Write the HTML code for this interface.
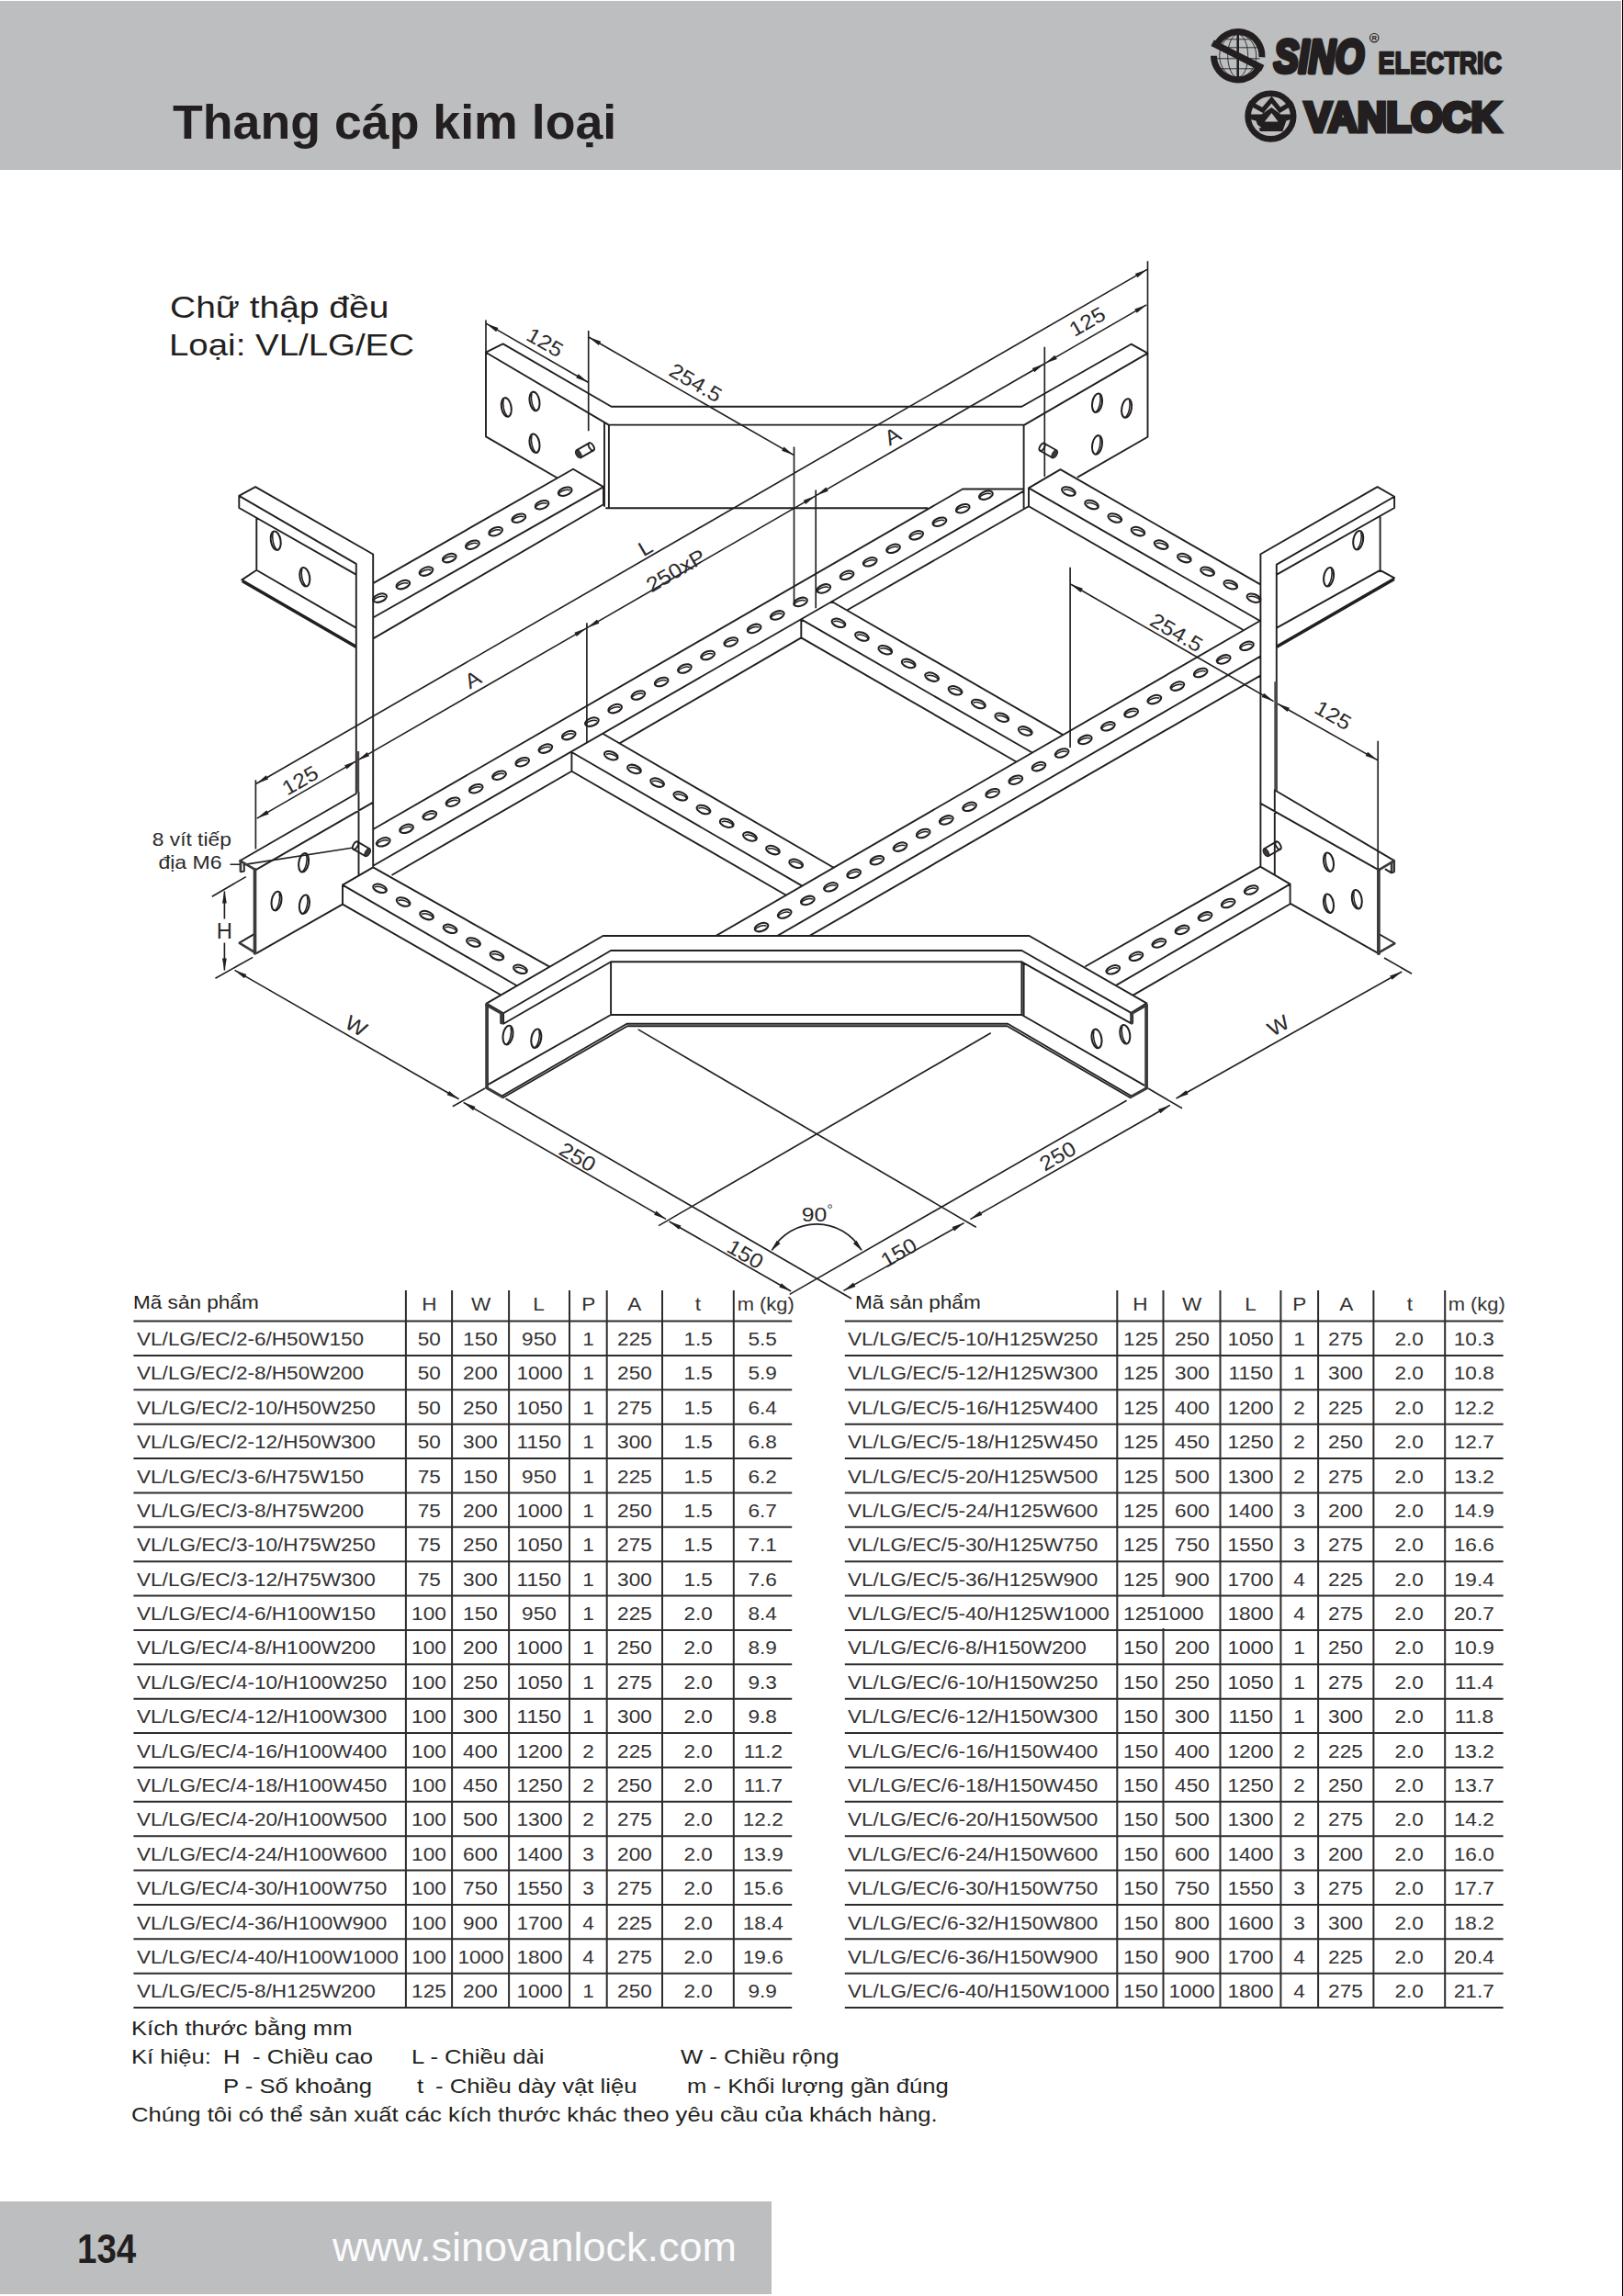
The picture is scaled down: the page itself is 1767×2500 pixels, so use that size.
<!DOCTYPE html>
<html lang="vi"><head><meta charset="utf-8"><title>Thang cáp kim loại - Chữ thập đều VL/LG/EC</title>
<style>
html,body{margin:0;padding:0;background:#fff;}
body{width:1767px;height:2500px;position:relative;overflow:hidden;font-family:"Liberation Sans",sans-serif;color:#231f20;}
.t{position:absolute;white-space:pre;transform-origin:0 50%;}
.r{position:absolute;}
.tb{color:#333132;}
svg{position:absolute;left:0;top:0;}
</style></head><body>

<div class="r" style="left:0.0px;top:1.0px;width:1764.8px;height:184.4px;background:#bcbec0"></div>
<div class="r" style="left:1766.0px;top:0.0px;width:1.0px;height:2500.0px;background:#000"></div>
<span class="t " style="left:187.6px;top:106.5px;font-size:52.4px;line-height:52.4px;transform:scaleX(1.0246);font-weight:700;">Thang cáp kim loại</span>
<svg width="1767" height="190" viewBox="0 0 1767 190">
<g transform="translate(1347.7 60.8)">
<g fill="none" stroke="#231f20" stroke-width="0.9"><ellipse rx="11" ry="23.5"/><ellipse rx="20" ry="23.5"/><path d="M-23 -9H23M-24 3H24M-21 14H21M-16 -18H16"/></g>
<path d="M0 -26V26" stroke="#231f20" stroke-width="2.6" fill="none"/>
<g fill="none" stroke="#231f20" stroke-width="7" stroke-linecap="butt"><path d="M-24 -10.5A26.2 26.2 0 0 1 26.2 1.5"/><path d="M24 10.5A26.2 26.2 0 0 1 -26.2 0"/><path d="M-27.6 -14L27 13.6" stroke-width="7.4"/></g>
</g>
<text x="1387" y="79" font-family="Liberation Sans, sans-serif" font-weight="700" font-style="italic" font-size="50.4" fill="#231f20" stroke="#231f20" stroke-width="5" stroke-linejoin="round" textLength="98" lengthAdjust="spacingAndGlyphs">SINO</text>
<circle cx="1496.2" cy="41.2" r="4.7" fill="none" stroke="#231f20" stroke-width="1.2"/>
<text x="1496.2" y="44.1" text-anchor="middle" font-family="Liberation Sans, sans-serif" font-weight="700" font-size="7.6" fill="#231f20">R</text>
<text x="1500.6" y="80.1" font-family="Liberation Sans, sans-serif" font-weight="700" font-size="33.8" fill="#231f20" stroke="#231f20" stroke-width="2.4" stroke-linejoin="round" textLength="134.4" lengthAdjust="spacingAndGlyphs">ELECTRIC</text>
<g transform="translate(1383.4 126.6)">
<circle r="24.8" fill="none" stroke="#231f20" stroke-width="6.6"/>
<path d="M-24 -15L-8.6 -6.6L1 -18L10.2 -6.6L24 -15" fill="none" stroke="#231f20" stroke-width="5" stroke-linejoin="miter"/>
<path fill-rule="evenodd" fill="#231f20" d="M-24 -2L-10 -2L1 -9.5L11 -2L24 -2L24 3L17 5L13 16.5L-11.5 16.5L-16 5L-24 3ZM1 -3.6L-6.6 6L8.2 6Z"/>
<path d="M-17 7.5L-10 12.5L-16.5 14Z" fill="#bcbec0"/>
</g>
<text x="1420.4" y="143" font-family="Liberation Sans, sans-serif" font-weight="700" font-size="44.6" fill="#231f20" stroke="#231f20" stroke-width="4.8" stroke-linejoin="miter" textLength="213" lengthAdjust="spacingAndGlyphs">VANLOCK</text>
</svg>
<span class="t " style="left:184.9px;top:317.6px;font-size:33.2px;line-height:33.2px;transform:scaleX(1.1737);">Chữ thập đều</span>
<span class="t " style="left:183.6px;top:358.8px;font-size:33.2px;line-height:33.2px;transform:scaleX(1.1579);">Loại: VL/LG/EC</span>
<svg width="1767" height="2500" viewBox="0 0 1767 2500">
<defs>
<style>
.o{fill:none;stroke:#231f20;stroke-width:1.9;stroke-linecap:round;stroke-linejoin:round}
.d{fill:none;stroke:#231f20;stroke-width:1.65;stroke-linecap:butt}
.k{fill:none;stroke:#4a4849;stroke-width:3.4}
.ah{fill:#231f20;stroke:none}
.c1{fill:none;stroke:#3b393a;stroke-width:3.7;stroke-linecap:round}
.c2{fill:none;stroke:#3b393a;stroke-width:2.7;stroke-linecap:round}
.c3{fill:none;stroke:#3b393a;stroke-width:3.1;stroke-linecap:round}
.dt{font-family:"Liberation Sans",sans-serif;fill:#2b2a2a}
.nt{font-family:"Liberation Sans",sans-serif;font-size:21px;fill:#2b2a2a}
.hh{fill:none;stroke:#231f20;stroke-width:2.05}
.hi{fill:none;stroke:#231f20;stroke-width:1.5}
</style>
</defs>
<path class="o" d="M529 383.7 L547.6 374.4 L665.6 442.8 L1112.4 442.8 L1231.5 374.7 L1249.5 384.6M529 475.4 L529 383.7 L662.7 462.6 L1115.3 462.6 L1249.5 384.6 L1249.5 475.8 L1173.6 519.4M529 475.4L606.5 520.3M658 460.2L658 551M662.9 462.6L662.9 553.2M660 553.2L1009.7 553.2M1114.6 462.6L1114.6 553.2M406.2 635.1 L624 510.7 L657 530.1 L657 549.3 L406.2 695.4M406.2 672.5L657 530.1M387.7 613.9 L260.3 539.9 L278.1 530.1 L406.2 603.5M260.3 539.9 L260.3 553 L387.7 625.7M279.3 564.2L279.3 620.8M387.7 683.6 L279.3 620.8 L263.3 631.4 L387.7 703.3M264.2 633.8L387.7 705.3M387.8 613.9L387.8 863.4M406.2 603.5L406.2 944.4M390.5 862.6L390.5 952.6M261.2 937.2L387.7 864.2M279.4 946.6L406.2 873.6M279.4 1037.8L373 984.6M262.4 949.4 L265.8 948.6 L265.8 942.4M261 1026.4L276.2 1017.4M597.4 1052.2 L406.2 944.4 L373 963.6 L373 984.6 L544.6 1083M373 963.6L561.8 1072.8M406.2 903L1048 532.5M1048 532.5L1114.6 532.5M406.2 942.7L1114.6 534.6M427.2 952.5L622.4 839.8M674.5 809.4L872.3 694.4M922.9 664L1120 551.3M657 799.2 L907.7 944.7M622.4 839.8 L622.4 819 L873.3 964.6M622.4 839.8L855.9 974.7M905.6 655 L1156.8 799.9M872.3 694.4 L872.3 674.4 L1123.4 819.3M872.3 694.4L1106.1 829.3M1372.2 636.4 L1154.5 511.1 L1120 531.4 L1120 551.3 L1352.4 685.2M1120 531.4L1372.2 676.2M779.7 1018.8L1372.2 675.8M846.6 1018.8L1372.2 714.6M881.6 1018.8L1372.2 735.6M1390 614.6 L1518.1 540.7 L1499.6 530.1 L1372.2 603.5M1518.1 540.7 L1518.1 553 L1390 625.7M1502.6 563.2L1502.6 620.8M1390 683.6 L1502.6 620.8 L1518.1 629.4 L1390 703.3M1517.4 631.8L1390 705.3M1372.4 603.5L1372.4 943.6M1389.8 614.6L1389.8 861M1387.8 860L1387.8 952.2M1372.2 874.6L1501.6 947.6M1389 861L1516.7 936.4M1405.8 984.3L1501.6 1038.6M1517.4 949.6 L1514.8 950.4 L1508.6 946.6M1514.8 940.6L1514.8 949.6M1502.6 1017.8L1518.2 1026.8M1182.2 1052 L1372.2 943.6 L1404.6 962.6 L1404.6 984.3 L1234 1083.4M1404.6 962.6L1215.5 1072.6M548.1 1103.2 L529.6 1092.6 L656.5 1019 L1120.6 1019 L1248.4 1092.4 L1231.5 1102.8M548.1 1103.2 L665.1 1035 L1112.4 1035 L1231.5 1102.8M548.1 1103.2 L548.1 1114.8 L665.1 1047.3 L1112.4 1047.3 L1231.5 1114.4 L1231.5 1102.8M665.1 1047.3L665.1 1105M1112.4 1047.3L1112.4 1105M1114.6 1048.5L1114.6 1106M532 1180.6 L665.1 1105 L1112.4 1105 L1245.6 1181.6M546.6 1193.2 L682.4 1114.8 L1097.2 1114.8 L1231.5 1193.3M548.4 1194.8 L683 1117.2 L1096.6 1117.2 L1229.8 1194.8"/>
<path class="d" d="M529 348.5L529 383.7M640.7 360L640.7 469.2M864.5 486.5L864.5 654.9M529.6 352.4L640.2 416.2M641.3 367.2L864 495.4M278.4 849.3L278.4 924.5M1249.5 284.3L1249.5 384.6M279.2 853.2L1248.8 293.4M638.9 678.3L638.9 808M888.2 533.4L888.2 662.3M1137.3 377.7L1137.3 519M279.8 891.1L388 828.6M389.2 827.9L638.3 684.1M639.5 683.4L887.6 540.1M888.8 539.4L1136.7 396.3M1137.9 395.6L1248.2 331.9M1165.1 617.8L1165.1 814M1500.2 806.8L1500.2 947M1166 636.2L1386.6 763.6M1391 766.2L1499.6 827.6M230.8 976.2L267.8 954.6M234.5 1065.2L275.2 1042.4M244.4 970.6L244.4 1000.5M244.4 1026.5L244.4 1056.4M250.5 941.2L261 941.2M264.6 941.6L383 923.2M492.8 1204.8L528 1185M255.5 1056.4L499.6 1196.8M504.6 1200.4L725 1327.4M728.6 1330L861.2 1406M550.5 1196.2L927 1414M694.7 1120.9L1062.7 1336.2M1078.7 1124.8L717.1 1334.6M1226.6 1198.2L859.7 1409.4M1250.3 1185.3L1287 1206.8M1507 1043L1537.1 1060.2M918.4 1405.4L1049.6 1331.6M1056.4 1327.6L1273.8 1203.4M1280.6 1196L1526.2 1058M840.4 1361.4A56 56 0 0 1 938 1361.4"/>
<path class="k" d="M389.5 818L389.5 863M1389 742.2L1389 860.6"/>
<path class="c1" d="M277.5 946.8V1037.8M1500.9 946.8V1038.2M530.1 1093.6V1183.6M546 1104V1113.6M1248.1 1094.6V1184.2M1232.3 1104V1113.6"/>
<path class="c2" d="M261.6 937.4L278.2 947.2M261.9 937.2V948.6M260.8 1026.9L278 1037.3M1500.6 947.6L1517.6 937.4M1517.7 937V948.8M1501.4 1037.2L1518.3 1027.4M529.6 1094.4L546.8 1104.2M1248.6 1094.4L1231.4 1104.2"/>
<path class="c3" d="M529.6 1184.4L547.6 1194.6M1248.8 1184.6L1230.6 1194.6"/>
<ellipse class="hh" cx="551.3" cy="443.4" rx="5.3" ry="10.4" transform="rotate(-10 551.3 443.4)"/><path class="hi" transform="translate(551.3 443.4)" d="M-3 -8.6C-4.6 -3.6 -2.6 6.4 1.2 9.8"/>
<ellipse class="hh" cx="582" cy="436.9" rx="5.3" ry="10.4" transform="rotate(-10 582 436.9)"/><path class="hi" transform="translate(582 436.9)" d="M-3 -8.6C-4.6 -3.6 -2.6 6.4 1.2 9.8"/>
<ellipse class="hh" cx="582" cy="482.8" rx="5.3" ry="10.4" transform="rotate(-10 582 482.8)"/><path class="hi" transform="translate(582 482.8)" d="M-3 -8.6C-4.6 -3.6 -2.6 6.4 1.2 9.8"/>
<ellipse class="hh" cx="1194.5" cy="438.8" rx="5.3" ry="10.4" transform="rotate(10 1194.5 438.8)"/><path class="hi" transform="translate(1194.5 438.8)" d="M3 -8.6C4.6 -3.6 2.6 6.4 -1.2 9.8"/>
<ellipse class="hh" cx="1226.6" cy="444.5" rx="5.3" ry="10.4" transform="rotate(10 1226.6 444.5)"/><path class="hi" transform="translate(1226.6 444.5)" d="M3 -8.6C4.6 -3.6 2.6 6.4 -1.2 9.8"/>
<ellipse class="hh" cx="1194.5" cy="484.4" rx="5.3" ry="10.4" transform="rotate(10 1194.5 484.4)"/><path class="hi" transform="translate(1194.5 484.4)" d="M3 -8.6C4.6 -3.6 2.6 6.4 -1.2 9.8"/>
<ellipse class="hh" cx="413.6" cy="651.1" rx="7.7" ry="4.2" transform="rotate(-20 413.6 651.1)"/><path class="hi" transform="translate(413.6 651.1)" d="M-7 2.7C-5.4 -0.3 1.6 -3.2 5.6 -1.3"/>
<ellipse class="hh" cx="438.8" cy="636.6" rx="7.7" ry="4.2" transform="rotate(-20 438.8 636.6)"/><path class="hi" transform="translate(438.8 636.6)" d="M-7 2.7C-5.4 -0.3 1.6 -3.2 5.6 -1.3"/>
<ellipse class="hh" cx="464" cy="622.1" rx="7.7" ry="4.2" transform="rotate(-20 464 622.1)"/><path class="hi" transform="translate(464 622.1)" d="M-7 2.7C-5.4 -0.3 1.6 -3.2 5.6 -1.3"/>
<ellipse class="hh" cx="489.2" cy="607.6" rx="7.7" ry="4.2" transform="rotate(-20 489.2 607.6)"/><path class="hi" transform="translate(489.2 607.6)" d="M-7 2.7C-5.4 -0.3 1.6 -3.2 5.6 -1.3"/>
<ellipse class="hh" cx="514.4" cy="593.2" rx="7.7" ry="4.2" transform="rotate(-20 514.4 593.2)"/><path class="hi" transform="translate(514.4 593.2)" d="M-7 2.7C-5.4 -0.3 1.6 -3.2 5.6 -1.3"/>
<ellipse class="hh" cx="539.6" cy="578.7" rx="7.7" ry="4.2" transform="rotate(-20 539.6 578.7)"/><path class="hi" transform="translate(539.6 578.7)" d="M-7 2.7C-5.4 -0.3 1.6 -3.2 5.6 -1.3"/>
<ellipse class="hh" cx="564.8" cy="564.2" rx="7.7" ry="4.2" transform="rotate(-20 564.8 564.2)"/><path class="hi" transform="translate(564.8 564.2)" d="M-7 2.7C-5.4 -0.3 1.6 -3.2 5.6 -1.3"/>
<ellipse class="hh" cx="590" cy="549.7" rx="7.7" ry="4.2" transform="rotate(-20 590 549.7)"/><path class="hi" transform="translate(590 549.7)" d="M-7 2.7C-5.4 -0.3 1.6 -3.2 5.6 -1.3"/>
<ellipse class="hh" cx="615.2" cy="535.2" rx="7.7" ry="4.2" transform="rotate(-20 615.2 535.2)"/><path class="hi" transform="translate(615.2 535.2)" d="M-7 2.7C-5.4 -0.3 1.6 -3.2 5.6 -1.3"/>
<ellipse class="hh" cx="300.2" cy="588.7" rx="5.3" ry="10.4" transform="rotate(-10 300.2 588.7)"/><path class="hi" transform="translate(300.2 588.7)" d="M-3 -8.6C-4.6 -3.6 -2.6 6.4 1.2 9.8"/>
<ellipse class="hh" cx="331.8" cy="628.2" rx="5.3" ry="10.4" transform="rotate(-10 331.8 628.2)"/><path class="hi" transform="translate(331.8 628.2)" d="M-3 -8.6C-4.6 -3.6 -2.6 6.4 1.2 9.8"/>
<ellipse class="hh" cx="330.6" cy="939.3" rx="5.3" ry="10.4" transform="rotate(10 330.6 939.3)"/><path class="hi" transform="translate(330.6 939.3)" d="M3 -8.6C4.6 -3.6 2.6 6.4 -1.2 9.8"/>
<ellipse class="hh" cx="301" cy="981.1" rx="5.3" ry="10.4" transform="rotate(10 301 981.1)"/><path class="hi" transform="translate(301 981.1)" d="M3 -8.6C4.6 -3.6 2.6 6.4 -1.2 9.8"/>
<ellipse class="hh" cx="331.4" cy="984.8" rx="5.3" ry="10.4" transform="rotate(10 331.4 984.8)"/><path class="hi" transform="translate(331.4 984.8)" d="M3 -8.6C4.6 -3.6 2.6 6.4 -1.2 9.8"/>
<ellipse class="hh" cx="413.6" cy="967.3" rx="7.7" ry="4.2" transform="rotate(20 413.6 967.3)"/><path class="hi" transform="translate(413.6 967.3)" d="M-5.6 -1.3C-1.6 -3.2 5.4 -0.3 7 2.7"/>
<ellipse class="hh" cx="439.1" cy="982" rx="7.7" ry="4.2" transform="rotate(20 439.1 982)"/><path class="hi" transform="translate(439.1 982)" d="M-5.6 -1.3C-1.6 -3.2 5.4 -0.3 7 2.7"/>
<ellipse class="hh" cx="464.6" cy="996.6" rx="7.7" ry="4.2" transform="rotate(20 464.6 996.6)"/><path class="hi" transform="translate(464.6 996.6)" d="M-5.6 -1.3C-1.6 -3.2 5.4 -0.3 7 2.7"/>
<ellipse class="hh" cx="490.1" cy="1011.3" rx="7.7" ry="4.2" transform="rotate(20 490.1 1011.3)"/><path class="hi" transform="translate(490.1 1011.3)" d="M-5.6 -1.3C-1.6 -3.2 5.4 -0.3 7 2.7"/>
<ellipse class="hh" cx="515.5" cy="1026" rx="7.7" ry="4.2" transform="rotate(20 515.5 1026)"/><path class="hi" transform="translate(515.5 1026)" d="M-5.6 -1.3C-1.6 -3.2 5.4 -0.3 7 2.7"/>
<ellipse class="hh" cx="541" cy="1040.6" rx="7.7" ry="4.2" transform="rotate(20 541 1040.6)"/><path class="hi" transform="translate(541 1040.6)" d="M-5.6 -1.3C-1.6 -3.2 5.4 -0.3 7 2.7"/>
<ellipse class="hh" cx="566.5" cy="1055.3" rx="7.7" ry="4.2" transform="rotate(20 566.5 1055.3)"/><path class="hi" transform="translate(566.5 1055.3)" d="M-5.6 -1.3C-1.6 -3.2 5.4 -0.3 7 2.7"/>
<ellipse class="hh" cx="417.3" cy="916.8" rx="7.7" ry="4.2" transform="rotate(-20 417.3 916.8)"/><path class="hi" transform="translate(417.3 916.8)" d="M-7 2.7C-5.4 -0.3 1.6 -3.2 5.6 -1.3"/>
<ellipse class="hh" cx="442.5" cy="902.3" rx="7.7" ry="4.2" transform="rotate(-20 442.5 902.3)"/><path class="hi" transform="translate(442.5 902.3)" d="M-7 2.7C-5.4 -0.3 1.6 -3.2 5.6 -1.3"/>
<ellipse class="hh" cx="467.8" cy="887.8" rx="7.7" ry="4.2" transform="rotate(-20 467.8 887.8)"/><path class="hi" transform="translate(467.8 887.8)" d="M-7 2.7C-5.4 -0.3 1.6 -3.2 5.6 -1.3"/>
<ellipse class="hh" cx="493" cy="873.2" rx="7.7" ry="4.2" transform="rotate(-20 493 873.2)"/><path class="hi" transform="translate(493 873.2)" d="M-7 2.7C-5.4 -0.3 1.6 -3.2 5.6 -1.3"/>
<ellipse class="hh" cx="518.2" cy="858.7" rx="7.7" ry="4.2" transform="rotate(-20 518.2 858.7)"/><path class="hi" transform="translate(518.2 858.7)" d="M-7 2.7C-5.4 -0.3 1.6 -3.2 5.6 -1.3"/>
<ellipse class="hh" cx="543.5" cy="844.2" rx="7.7" ry="4.2" transform="rotate(-20 543.5 844.2)"/><path class="hi" transform="translate(543.5 844.2)" d="M-7 2.7C-5.4 -0.3 1.6 -3.2 5.6 -1.3"/>
<ellipse class="hh" cx="568.7" cy="829.7" rx="7.7" ry="4.2" transform="rotate(-20 568.7 829.7)"/><path class="hi" transform="translate(568.7 829.7)" d="M-7 2.7C-5.4 -0.3 1.6 -3.2 5.6 -1.3"/>
<ellipse class="hh" cx="593.9" cy="815.1" rx="7.7" ry="4.2" transform="rotate(-20 593.9 815.1)"/><path class="hi" transform="translate(593.9 815.1)" d="M-7 2.7C-5.4 -0.3 1.6 -3.2 5.6 -1.3"/>
<ellipse class="hh" cx="619.2" cy="800.6" rx="7.7" ry="4.2" transform="rotate(-20 619.2 800.6)"/><path class="hi" transform="translate(619.2 800.6)" d="M-7 2.7C-5.4 -0.3 1.6 -3.2 5.6 -1.3"/>
<ellipse class="hh" cx="644.4" cy="786.1" rx="7.7" ry="4.2" transform="rotate(-20 644.4 786.1)"/><path class="hi" transform="translate(644.4 786.1)" d="M-7 2.7C-5.4 -0.3 1.6 -3.2 5.6 -1.3"/>
<ellipse class="hh" cx="669.6" cy="771.6" rx="7.7" ry="4.2" transform="rotate(-20 669.6 771.6)"/><path class="hi" transform="translate(669.6 771.6)" d="M-7 2.7C-5.4 -0.3 1.6 -3.2 5.6 -1.3"/>
<ellipse class="hh" cx="694.9" cy="757" rx="7.7" ry="4.2" transform="rotate(-20 694.9 757)"/><path class="hi" transform="translate(694.9 757)" d="M-7 2.7C-5.4 -0.3 1.6 -3.2 5.6 -1.3"/>
<ellipse class="hh" cx="720.1" cy="742.5" rx="7.7" ry="4.2" transform="rotate(-20 720.1 742.5)"/><path class="hi" transform="translate(720.1 742.5)" d="M-7 2.7C-5.4 -0.3 1.6 -3.2 5.6 -1.3"/>
<ellipse class="hh" cx="745.4" cy="728" rx="7.7" ry="4.2" transform="rotate(-20 745.4 728)"/><path class="hi" transform="translate(745.4 728)" d="M-7 2.7C-5.4 -0.3 1.6 -3.2 5.6 -1.3"/>
<ellipse class="hh" cx="770.6" cy="713.5" rx="7.7" ry="4.2" transform="rotate(-20 770.6 713.5)"/><path class="hi" transform="translate(770.6 713.5)" d="M-7 2.7C-5.4 -0.3 1.6 -3.2 5.6 -1.3"/>
<ellipse class="hh" cx="795.8" cy="699" rx="7.7" ry="4.2" transform="rotate(-20 795.8 699)"/><path class="hi" transform="translate(795.8 699)" d="M-7 2.7C-5.4 -0.3 1.6 -3.2 5.6 -1.3"/>
<ellipse class="hh" cx="821.1" cy="684.4" rx="7.7" ry="4.2" transform="rotate(-20 821.1 684.4)"/><path class="hi" transform="translate(821.1 684.4)" d="M-7 2.7C-5.4 -0.3 1.6 -3.2 5.6 -1.3"/>
<ellipse class="hh" cx="846.3" cy="669.9" rx="7.7" ry="4.2" transform="rotate(-20 846.3 669.9)"/><path class="hi" transform="translate(846.3 669.9)" d="M-7 2.7C-5.4 -0.3 1.6 -3.2 5.6 -1.3"/>
<ellipse class="hh" cx="871.5" cy="655.4" rx="7.7" ry="4.2" transform="rotate(-20 871.5 655.4)"/><path class="hi" transform="translate(871.5 655.4)" d="M-7 2.7C-5.4 -0.3 1.6 -3.2 5.6 -1.3"/>
<ellipse class="hh" cx="896.8" cy="640.9" rx="7.7" ry="4.2" transform="rotate(-20 896.8 640.9)"/><path class="hi" transform="translate(896.8 640.9)" d="M-7 2.7C-5.4 -0.3 1.6 -3.2 5.6 -1.3"/>
<ellipse class="hh" cx="922" cy="626.3" rx="7.7" ry="4.2" transform="rotate(-20 922 626.3)"/><path class="hi" transform="translate(922 626.3)" d="M-7 2.7C-5.4 -0.3 1.6 -3.2 5.6 -1.3"/>
<ellipse class="hh" cx="947.2" cy="611.8" rx="7.7" ry="4.2" transform="rotate(-20 947.2 611.8)"/><path class="hi" transform="translate(947.2 611.8)" d="M-7 2.7C-5.4 -0.3 1.6 -3.2 5.6 -1.3"/>
<ellipse class="hh" cx="972.5" cy="597.3" rx="7.7" ry="4.2" transform="rotate(-20 972.5 597.3)"/><path class="hi" transform="translate(972.5 597.3)" d="M-7 2.7C-5.4 -0.3 1.6 -3.2 5.6 -1.3"/>
<ellipse class="hh" cx="997.7" cy="582.8" rx="7.7" ry="4.2" transform="rotate(-20 997.7 582.8)"/><path class="hi" transform="translate(997.7 582.8)" d="M-7 2.7C-5.4 -0.3 1.6 -3.2 5.6 -1.3"/>
<ellipse class="hh" cx="1022.9" cy="568.2" rx="7.7" ry="4.2" transform="rotate(-20 1022.9 568.2)"/><path class="hi" transform="translate(1022.9 568.2)" d="M-7 2.7C-5.4 -0.3 1.6 -3.2 5.6 -1.3"/>
<ellipse class="hh" cx="1048.2" cy="553.7" rx="7.7" ry="4.2" transform="rotate(-20 1048.2 553.7)"/><path class="hi" transform="translate(1048.2 553.7)" d="M-7 2.7C-5.4 -0.3 1.6 -3.2 5.6 -1.3"/>
<ellipse class="hh" cx="1073.4" cy="539.2" rx="7.7" ry="4.2" transform="rotate(-20 1073.4 539.2)"/><path class="hi" transform="translate(1073.4 539.2)" d="M-7 2.7C-5.4 -0.3 1.6 -3.2 5.6 -1.3"/>
<ellipse class="hh" cx="665.3" cy="822.7" rx="7.7" ry="4.2" transform="rotate(20 665.3 822.7)"/><path class="hi" transform="translate(665.3 822.7)" d="M-5.6 -1.3C-1.6 -3.2 5.4 -0.3 7 2.7"/>
<ellipse class="hh" cx="690.5" cy="837.4" rx="7.7" ry="4.2" transform="rotate(20 690.5 837.4)"/><path class="hi" transform="translate(690.5 837.4)" d="M-5.6 -1.3C-1.6 -3.2 5.4 -0.3 7 2.7"/>
<ellipse class="hh" cx="715.6" cy="852.1" rx="7.7" ry="4.2" transform="rotate(20 715.6 852.1)"/><path class="hi" transform="translate(715.6 852.1)" d="M-5.6 -1.3C-1.6 -3.2 5.4 -0.3 7 2.7"/>
<ellipse class="hh" cx="740.8" cy="866.8" rx="7.7" ry="4.2" transform="rotate(20 740.8 866.8)"/><path class="hi" transform="translate(740.8 866.8)" d="M-5.6 -1.3C-1.6 -3.2 5.4 -0.3 7 2.7"/>
<ellipse class="hh" cx="766" cy="881.5" rx="7.7" ry="4.2" transform="rotate(20 766 881.5)"/><path class="hi" transform="translate(766 881.5)" d="M-5.6 -1.3C-1.6 -3.2 5.4 -0.3 7 2.7"/>
<ellipse class="hh" cx="791.2" cy="896.2" rx="7.7" ry="4.2" transform="rotate(20 791.2 896.2)"/><path class="hi" transform="translate(791.2 896.2)" d="M-5.6 -1.3C-1.6 -3.2 5.4 -0.3 7 2.7"/>
<ellipse class="hh" cx="816.4" cy="910.9" rx="7.7" ry="4.2" transform="rotate(20 816.4 910.9)"/><path class="hi" transform="translate(816.4 910.9)" d="M-5.6 -1.3C-1.6 -3.2 5.4 -0.3 7 2.7"/>
<ellipse class="hh" cx="841.5" cy="925.6" rx="7.7" ry="4.2" transform="rotate(20 841.5 925.6)"/><path class="hi" transform="translate(841.5 925.6)" d="M-5.6 -1.3C-1.6 -3.2 5.4 -0.3 7 2.7"/>
<ellipse class="hh" cx="866.7" cy="940.3" rx="7.7" ry="4.2" transform="rotate(20 866.7 940.3)"/><path class="hi" transform="translate(866.7 940.3)" d="M-5.6 -1.3C-1.6 -3.2 5.4 -0.3 7 2.7"/>
<ellipse class="hh" cx="913" cy="678.3" rx="7.7" ry="4.2" transform="rotate(20 913 678.3)"/><path class="hi" transform="translate(913 678.3)" d="M-5.6 -1.3C-1.6 -3.2 5.4 -0.3 7 2.7"/>
<ellipse class="hh" cx="938.4" cy="693" rx="7.7" ry="4.2" transform="rotate(20 938.4 693)"/><path class="hi" transform="translate(938.4 693)" d="M-5.6 -1.3C-1.6 -3.2 5.4 -0.3 7 2.7"/>
<ellipse class="hh" cx="963.8" cy="707.7" rx="7.7" ry="4.2" transform="rotate(20 963.8 707.7)"/><path class="hi" transform="translate(963.8 707.7)" d="M-5.6 -1.3C-1.6 -3.2 5.4 -0.3 7 2.7"/>
<ellipse class="hh" cx="989.2" cy="722.4" rx="7.7" ry="4.2" transform="rotate(20 989.2 722.4)"/><path class="hi" transform="translate(989.2 722.4)" d="M-5.6 -1.3C-1.6 -3.2 5.4 -0.3 7 2.7"/>
<ellipse class="hh" cx="1014.6" cy="737.1" rx="7.7" ry="4.2" transform="rotate(20 1014.6 737.1)"/><path class="hi" transform="translate(1014.6 737.1)" d="M-5.6 -1.3C-1.6 -3.2 5.4 -0.3 7 2.7"/>
<ellipse class="hh" cx="1040" cy="751.8" rx="7.7" ry="4.2" transform="rotate(20 1040 751.8)"/><path class="hi" transform="translate(1040 751.8)" d="M-5.6 -1.3C-1.6 -3.2 5.4 -0.3 7 2.7"/>
<ellipse class="hh" cx="1065.4" cy="766.5" rx="7.7" ry="4.2" transform="rotate(20 1065.4 766.5)"/><path class="hi" transform="translate(1065.4 766.5)" d="M-5.6 -1.3C-1.6 -3.2 5.4 -0.3 7 2.7"/>
<ellipse class="hh" cx="1090.8" cy="781.2" rx="7.7" ry="4.2" transform="rotate(20 1090.8 781.2)"/><path class="hi" transform="translate(1090.8 781.2)" d="M-5.6 -1.3C-1.6 -3.2 5.4 -0.3 7 2.7"/>
<ellipse class="hh" cx="1116.2" cy="795.9" rx="7.7" ry="4.2" transform="rotate(20 1116.2 795.9)"/><path class="hi" transform="translate(1116.2 795.9)" d="M-5.6 -1.3C-1.6 -3.2 5.4 -0.3 7 2.7"/>
<ellipse class="hh" cx="1163.4" cy="535" rx="7.7" ry="4.2" transform="rotate(20 1163.4 535)"/><path class="hi" transform="translate(1163.4 535)" d="M-5.6 -1.3C-1.6 -3.2 5.4 -0.3 7 2.7"/>
<ellipse class="hh" cx="1188.6" cy="549.5" rx="7.7" ry="4.2" transform="rotate(20 1188.6 549.5)"/><path class="hi" transform="translate(1188.6 549.5)" d="M-5.6 -1.3C-1.6 -3.2 5.4 -0.3 7 2.7"/>
<ellipse class="hh" cx="1213.8" cy="564" rx="7.7" ry="4.2" transform="rotate(20 1213.8 564)"/><path class="hi" transform="translate(1213.8 564)" d="M-5.6 -1.3C-1.6 -3.2 5.4 -0.3 7 2.7"/>
<ellipse class="hh" cx="1239" cy="578.6" rx="7.7" ry="4.2" transform="rotate(20 1239 578.6)"/><path class="hi" transform="translate(1239 578.6)" d="M-5.6 -1.3C-1.6 -3.2 5.4 -0.3 7 2.7"/>
<ellipse class="hh" cx="1264.2" cy="593.1" rx="7.7" ry="4.2" transform="rotate(20 1264.2 593.1)"/><path class="hi" transform="translate(1264.2 593.1)" d="M-5.6 -1.3C-1.6 -3.2 5.4 -0.3 7 2.7"/>
<ellipse class="hh" cx="1289.4" cy="607.6" rx="7.7" ry="4.2" transform="rotate(20 1289.4 607.6)"/><path class="hi" transform="translate(1289.4 607.6)" d="M-5.6 -1.3C-1.6 -3.2 5.4 -0.3 7 2.7"/>
<ellipse class="hh" cx="1314.6" cy="622.2" rx="7.7" ry="4.2" transform="rotate(20 1314.6 622.2)"/><path class="hi" transform="translate(1314.6 622.2)" d="M-5.6 -1.3C-1.6 -3.2 5.4 -0.3 7 2.7"/>
<ellipse class="hh" cx="1339.8" cy="636.7" rx="7.7" ry="4.2" transform="rotate(20 1339.8 636.7)"/><path class="hi" transform="translate(1339.8 636.7)" d="M-5.6 -1.3C-1.6 -3.2 5.4 -0.3 7 2.7"/>
<ellipse class="hh" cx="1365" cy="651.2" rx="7.7" ry="4.2" transform="rotate(20 1365 651.2)"/><path class="hi" transform="translate(1365 651.2)" d="M-5.6 -1.3C-1.6 -3.2 5.4 -0.3 7 2.7"/>
<ellipse class="hh" cx="829" cy="1009.6" rx="7.7" ry="4.2" transform="rotate(-20 829 1009.6)"/><path class="hi" transform="translate(829 1009.6)" d="M-7 2.7C-5.4 -0.3 1.6 -3.2 5.6 -1.3"/>
<ellipse class="hh" cx="854.2" cy="995" rx="7.7" ry="4.2" transform="rotate(-20 854.2 995)"/><path class="hi" transform="translate(854.2 995)" d="M-7 2.7C-5.4 -0.3 1.6 -3.2 5.6 -1.3"/>
<ellipse class="hh" cx="879.3" cy="980.4" rx="7.7" ry="4.2" transform="rotate(-20 879.3 980.4)"/><path class="hi" transform="translate(879.3 980.4)" d="M-7 2.7C-5.4 -0.3 1.6 -3.2 5.6 -1.3"/>
<ellipse class="hh" cx="904.5" cy="965.8" rx="7.7" ry="4.2" transform="rotate(-20 904.5 965.8)"/><path class="hi" transform="translate(904.5 965.8)" d="M-7 2.7C-5.4 -0.3 1.6 -3.2 5.6 -1.3"/>
<ellipse class="hh" cx="929.6" cy="951.3" rx="7.7" ry="4.2" transform="rotate(-20 929.6 951.3)"/><path class="hi" transform="translate(929.6 951.3)" d="M-7 2.7C-5.4 -0.3 1.6 -3.2 5.6 -1.3"/>
<ellipse class="hh" cx="954.8" cy="936.7" rx="7.7" ry="4.2" transform="rotate(-20 954.8 936.7)"/><path class="hi" transform="translate(954.8 936.7)" d="M-7 2.7C-5.4 -0.3 1.6 -3.2 5.6 -1.3"/>
<ellipse class="hh" cx="980" cy="922.1" rx="7.7" ry="4.2" transform="rotate(-20 980 922.1)"/><path class="hi" transform="translate(980 922.1)" d="M-7 2.7C-5.4 -0.3 1.6 -3.2 5.6 -1.3"/>
<ellipse class="hh" cx="1005.1" cy="907.5" rx="7.7" ry="4.2" transform="rotate(-20 1005.1 907.5)"/><path class="hi" transform="translate(1005.1 907.5)" d="M-7 2.7C-5.4 -0.3 1.6 -3.2 5.6 -1.3"/>
<ellipse class="hh" cx="1030.3" cy="892.9" rx="7.7" ry="4.2" transform="rotate(-20 1030.3 892.9)"/><path class="hi" transform="translate(1030.3 892.9)" d="M-7 2.7C-5.4 -0.3 1.6 -3.2 5.6 -1.3"/>
<ellipse class="hh" cx="1055.5" cy="878.3" rx="7.7" ry="4.2" transform="rotate(-20 1055.5 878.3)"/><path class="hi" transform="translate(1055.5 878.3)" d="M-7 2.7C-5.4 -0.3 1.6 -3.2 5.6 -1.3"/>
<ellipse class="hh" cx="1080.6" cy="863.7" rx="7.7" ry="4.2" transform="rotate(-20 1080.6 863.7)"/><path class="hi" transform="translate(1080.6 863.7)" d="M-7 2.7C-5.4 -0.3 1.6 -3.2 5.6 -1.3"/>
<ellipse class="hh" cx="1105.8" cy="849.2" rx="7.7" ry="4.2" transform="rotate(-20 1105.8 849.2)"/><path class="hi" transform="translate(1105.8 849.2)" d="M-7 2.7C-5.4 -0.3 1.6 -3.2 5.6 -1.3"/>
<ellipse class="hh" cx="1130.9" cy="834.6" rx="7.7" ry="4.2" transform="rotate(-20 1130.9 834.6)"/><path class="hi" transform="translate(1130.9 834.6)" d="M-7 2.7C-5.4 -0.3 1.6 -3.2 5.6 -1.3"/>
<ellipse class="hh" cx="1156.1" cy="820" rx="7.7" ry="4.2" transform="rotate(-20 1156.1 820)"/><path class="hi" transform="translate(1156.1 820)" d="M-7 2.7C-5.4 -0.3 1.6 -3.2 5.6 -1.3"/>
<ellipse class="hh" cx="1181.3" cy="805.4" rx="7.7" ry="4.2" transform="rotate(-20 1181.3 805.4)"/><path class="hi" transform="translate(1181.3 805.4)" d="M-7 2.7C-5.4 -0.3 1.6 -3.2 5.6 -1.3"/>
<ellipse class="hh" cx="1206.4" cy="790.8" rx="7.7" ry="4.2" transform="rotate(-20 1206.4 790.8)"/><path class="hi" transform="translate(1206.4 790.8)" d="M-7 2.7C-5.4 -0.3 1.6 -3.2 5.6 -1.3"/>
<ellipse class="hh" cx="1231.6" cy="776.2" rx="7.7" ry="4.2" transform="rotate(-20 1231.6 776.2)"/><path class="hi" transform="translate(1231.6 776.2)" d="M-7 2.7C-5.4 -0.3 1.6 -3.2 5.6 -1.3"/>
<ellipse class="hh" cx="1256.8" cy="761.6" rx="7.7" ry="4.2" transform="rotate(-20 1256.8 761.6)"/><path class="hi" transform="translate(1256.8 761.6)" d="M-7 2.7C-5.4 -0.3 1.6 -3.2 5.6 -1.3"/>
<ellipse class="hh" cx="1281.9" cy="747.1" rx="7.7" ry="4.2" transform="rotate(-20 1281.9 747.1)"/><path class="hi" transform="translate(1281.9 747.1)" d="M-7 2.7C-5.4 -0.3 1.6 -3.2 5.6 -1.3"/>
<ellipse class="hh" cx="1307.1" cy="732.5" rx="7.7" ry="4.2" transform="rotate(-20 1307.1 732.5)"/><path class="hi" transform="translate(1307.1 732.5)" d="M-7 2.7C-5.4 -0.3 1.6 -3.2 5.6 -1.3"/>
<ellipse class="hh" cx="1332.2" cy="717.9" rx="7.7" ry="4.2" transform="rotate(-20 1332.2 717.9)"/><path class="hi" transform="translate(1332.2 717.9)" d="M-7 2.7C-5.4 -0.3 1.6 -3.2 5.6 -1.3"/>
<ellipse class="hh" cx="1357.4" cy="703.3" rx="7.7" ry="4.2" transform="rotate(-20 1357.4 703.3)"/><path class="hi" transform="translate(1357.4 703.3)" d="M-7 2.7C-5.4 -0.3 1.6 -3.2 5.6 -1.3"/>
<ellipse class="hh" cx="1478.7" cy="588.2" rx="5.3" ry="10.4" transform="rotate(10 1478.7 588.2)"/><path class="hi" transform="translate(1478.7 588.2)" d="M3 -8.6C4.6 -3.6 2.6 6.4 -1.2 9.8"/>
<ellipse class="hh" cx="1446.6" cy="628.2" rx="5.3" ry="10.4" transform="rotate(10 1446.6 628.2)"/><path class="hi" transform="translate(1446.6 628.2)" d="M3 -8.6C4.6 -3.6 2.6 6.4 -1.2 9.8"/>
<ellipse class="hh" cx="1446.5" cy="938.7" rx="5.3" ry="10.4" transform="rotate(-10 1446.5 938.7)"/><path class="hi" transform="translate(1446.5 938.7)" d="M-3 -8.6C-4.6 -3.6 -2.6 6.4 1.2 9.8"/>
<ellipse class="hh" cx="1446.5" cy="983.8" rx="5.3" ry="10.4" transform="rotate(-10 1446.5 983.8)"/><path class="hi" transform="translate(1446.5 983.8)" d="M-3 -8.6C-4.6 -3.6 -2.6 6.4 1.2 9.8"/>
<ellipse class="hh" cx="1477.3" cy="979.3" rx="5.3" ry="10.4" transform="rotate(-10 1477.3 979.3)"/><path class="hi" transform="translate(1477.3 979.3)" d="M-3 -8.6C-4.6 -3.6 -2.6 6.4 1.2 9.8"/>
<ellipse class="hh" cx="1362.2" cy="969" rx="7.7" ry="4.2" transform="rotate(-20 1362.2 969)"/><path class="hi" transform="translate(1362.2 969)" d="M-7 2.7C-5.4 -0.3 1.6 -3.2 5.6 -1.3"/>
<ellipse class="hh" cx="1337.1" cy="983.5" rx="7.7" ry="4.2" transform="rotate(-20 1337.1 983.5)"/><path class="hi" transform="translate(1337.1 983.5)" d="M-7 2.7C-5.4 -0.3 1.6 -3.2 5.6 -1.3"/>
<ellipse class="hh" cx="1312.1" cy="997.9" rx="7.7" ry="4.2" transform="rotate(-20 1312.1 997.9)"/><path class="hi" transform="translate(1312.1 997.9)" d="M-7 2.7C-5.4 -0.3 1.6 -3.2 5.6 -1.3"/>
<ellipse class="hh" cx="1287" cy="1012.4" rx="7.7" ry="4.2" transform="rotate(-20 1287 1012.4)"/><path class="hi" transform="translate(1287 1012.4)" d="M-7 2.7C-5.4 -0.3 1.6 -3.2 5.6 -1.3"/>
<ellipse class="hh" cx="1261.9" cy="1026.9" rx="7.7" ry="4.2" transform="rotate(-20 1261.9 1026.9)"/><path class="hi" transform="translate(1261.9 1026.9)" d="M-7 2.7C-5.4 -0.3 1.6 -3.2 5.6 -1.3"/>
<ellipse class="hh" cx="1236.9" cy="1041.3" rx="7.7" ry="4.2" transform="rotate(-20 1236.9 1041.3)"/><path class="hi" transform="translate(1236.9 1041.3)" d="M-7 2.7C-5.4 -0.3 1.6 -3.2 5.6 -1.3"/>
<ellipse class="hh" cx="1211.8" cy="1055.8" rx="7.7" ry="4.2" transform="rotate(-20 1211.8 1055.8)"/><path class="hi" transform="translate(1211.8 1055.8)" d="M-7 2.7C-5.4 -0.3 1.6 -3.2 5.6 -1.3"/>
<ellipse class="hh" cx="553" cy="1127.1" rx="5.3" ry="10.4" transform="rotate(10 553 1127.1)"/><path class="hi" transform="translate(553 1127.1)" d="M3 -8.6C4.6 -3.6 2.6 6.4 -1.2 9.8"/>
<ellipse class="hh" cx="583.8" cy="1130.8" rx="5.3" ry="10.4" transform="rotate(10 583.8 1130.8)"/><path class="hi" transform="translate(583.8 1130.8)" d="M3 -8.6C4.6 -3.6 2.6 6.4 -1.2 9.8"/>
<ellipse class="hh" cx="1194" cy="1130.9" rx="5.3" ry="10.4" transform="rotate(-10 1194 1130.9)"/><path class="hi" transform="translate(1194 1130.9)" d="M-3 -8.6C-4.6 -3.6 -2.6 6.4 1.2 9.8"/>
<ellipse class="hh" cx="1224.8" cy="1126.2" rx="5.3" ry="10.4" transform="rotate(-10 1224.8 1126.2)"/><path class="hi" transform="translate(1224.8 1126.2)" d="M-3 -8.6C-4.6 -3.6 -2.6 6.4 1.2 9.8"/>
<path class="o" d="M646.1 490.4L632.1 498.4M641.5 482.4L627.5 490.4"/>
<ellipse class="o" cx="643.8" cy="486.4" rx="2.4" ry="4.6" transform="rotate(-29.7 643.8 486.4)"/>
<ellipse cx="629.8" cy="494.4" rx="2.6" ry="4.6" transform="rotate(-29.7 629.8 494.4)" fill="#3a3838" stroke="#231f20" stroke-width="1"/>
<path class="o" d="M389.3 916.6L402.5 924.2M384.7 924.6L397.9 932.2"/>
<ellipse class="o" cx="387" cy="920.6" rx="2.4" ry="4.6" transform="rotate(-150.1 387 920.6)"/>
<ellipse cx="400.2" cy="928.2" rx="2.6" ry="4.6" transform="rotate(-150.1 400.2 928.2)" fill="#3a3838" stroke="#231f20" stroke-width="1"/>
<path class="o" d="M1136.9 482.7L1150.5 490.5M1132.3 490.7L1145.9 498.5"/>
<ellipse class="o" cx="1134.6" cy="486.7" rx="2.4" ry="4.6" transform="rotate(-150.2 1134.6 486.7)"/>
<ellipse cx="1148.2" cy="494.5" rx="2.6" ry="4.6" transform="rotate(-150.2 1148.2 494.5)" fill="#3a3838" stroke="#231f20" stroke-width="1"/>
<path class="o" d="M1393.9 924.6L1380.7 932.2M1389.3 916.6L1376.1 924.2"/>
<ellipse class="o" cx="1391.6" cy="920.6" rx="2.4" ry="4.6" transform="rotate(-29.9 1391.6 920.6)"/>
<ellipse cx="1378.4" cy="928.2" rx="2.6" ry="4.6" transform="rotate(-29.9 1378.4 928.2)" fill="#3a3838" stroke="#231f20" stroke-width="1"/>
<path class="ah" d="M529.6 352.4L542.5 357L540.1 361.3Z"/>
<path class="ah" d="M640.2 416.2L627.3 411.6L629.7 407.3Z"/>
<path class="ah" d="M641.3 367.2L654.2 371.8L651.8 376.1Z"/>
<path class="ah" d="M864 495.4L851.1 490.8L853.5 486.5Z"/>
<text class="dt" font-size="22.5" transform="translate(593.5 372.5) rotate(30) scale(1.1 1)" text-anchor="middle" y="8.1">125</text>
<text class="dt" font-size="22.5" transform="translate(757.5 416.5) rotate(30) scale(1.1 1)" text-anchor="middle" y="8.1">254.5</text>
<path class="ah" d="M279.2 853.2L289.7 844.3L292.1 848.6Z"/>
<path class="ah" d="M1248.8 293.4L1238.3 302.3L1235.9 298Z"/>
<path class="ah" d="M279.8 891.1L290.3 882.2L292.7 886.4Z"/>
<path class="ah" d="M388 828.6L377.5 837.5L375.1 833.2Z"/>
<path class="ah" d="M389.2 827.9L399.7 819L402.1 823.3Z"/>
<path class="ah" d="M638.3 684.1L627.8 693L625.4 688.7Z"/>
<path class="ah" d="M639.5 683.4L650 674.5L652.4 678.8Z"/>
<path class="ah" d="M887.6 540.1L877.1 549L874.7 544.8Z"/>
<path class="ah" d="M888.8 539.4L899.3 530.6L901.7 534.8Z"/>
<path class="ah" d="M1136.7 396.3L1126.2 405.2L1123.8 401Z"/>
<path class="ah" d="M1137.9 395.6L1148.4 386.8L1150.8 391Z"/>
<path class="ah" d="M1248.2 331.9L1237.7 340.8L1235.3 336.6Z"/>
<text class="dt" font-size="22.5" transform="translate(326.5 849.5) rotate(-30) scale(1.1 1)" text-anchor="middle" y="8.1">125</text>
<text class="dt" font-size="22.5" transform="translate(1183.5 350) rotate(-30) scale(1.1 1)" text-anchor="middle" y="8.1">125</text>
<text class="dt" font-size="22.5" transform="translate(514.5 739.5) rotate(-30) scale(1.1 1)" text-anchor="middle" y="8.1">A</text>
<text class="dt" font-size="22.5" transform="translate(971.5 474.5) rotate(-30) scale(1.1 1)" text-anchor="middle" y="8.1">A</text>
<text class="dt" font-size="22.5" transform="translate(702.5 596) rotate(-30) scale(1.1 1)" text-anchor="middle" y="8.1">L</text>
<text class="dt" font-size="22.5" transform="translate(735.5 621) rotate(-30) scale(1.1 1)" text-anchor="middle" y="8.1">250xP</text>
<path class="ah" d="M1166 636.2L1178.9 640.8L1176.5 645.1Z"/>
<path class="ah" d="M1386.6 763.6L1373.7 759L1376.1 754.7Z"/>
<path class="ah" d="M1391 766.2L1404 770.7L1401.5 775Z"/>
<path class="ah" d="M1499.6 827.6L1486.6 823.1L1489.1 818.8Z"/>
<text class="dt" font-size="22.5" transform="translate(1281 688.5) rotate(30) scale(1.1 1)" text-anchor="middle" y="8.1">254.5</text>
<text class="dt" font-size="22.5" transform="translate(1451.5 778.5) rotate(30) scale(1.1 1)" text-anchor="middle" y="8.1">125</text>
<path class="ah" d="M244.4 970L246.8 983.5L242 983.5Z"/>
<path class="ah" d="M244.4 1057L242 1043.5L246.8 1043.5Z"/>
<text class="dt" font-size="24" transform="translate(244.4 1013.6) rotate(0) scale(0.99 1)" text-anchor="middle" y="8.6">H</text>
<text class="nt" x="165.8" y="920.9" textLength="86" lengthAdjust="spacingAndGlyphs">8 vít tiếp</text>
<text class="nt" x="172.4" y="945.8" textLength="69.2" lengthAdjust="spacingAndGlyphs">địa M6</text>
<path class="ah" d="M255.5 1056.4L268.4 1061L266 1065.3Z"/>
<path class="ah" d="M499.6 1196.8L486.7 1192.2L489.1 1187.9Z"/>
<path class="ah" d="M504.6 1200.4L517.5 1205L515.1 1209.3Z"/>
<path class="ah" d="M725 1327.4L712.1 1322.8L714.5 1318.5Z"/>
<path class="ah" d="M728.6 1330L741.5 1334.6L739.1 1338.8Z"/>
<path class="ah" d="M861.2 1406L848.3 1401.4L850.7 1397.2Z"/>
<text class="dt" font-size="22.5" transform="translate(387.8 1116.7) rotate(30) scale(1.1 1)" text-anchor="middle" y="8.1">W</text>
<text class="dt" font-size="22.5" transform="translate(629 1259.6) rotate(30) scale(1.1 1)" text-anchor="middle" y="8.1">250</text>
<text class="dt" font-size="22.5" transform="translate(811.6 1365.4) rotate(30) scale(1.1 1)" text-anchor="middle" y="8.1">150</text>
<path class="ah" d="M918.4 1405.4L929 1396.6L931.4 1400.9Z"/>
<path class="ah" d="M1049.6 1331.6L1039 1340.4L1036.6 1336.1Z"/>
<path class="ah" d="M1056.4 1327.6L1066.9 1318.8L1069.3 1323Z"/>
<path class="ah" d="M1273.8 1203.4L1263.3 1212.2L1260.9 1208Z"/>
<path class="ah" d="M1280.6 1196L1291.2 1187.3L1293.6 1191.5Z"/>
<path class="ah" d="M1526.2 1058L1515.6 1066.7L1513.2 1062.5Z"/>
<text class="dt" font-size="22.5" transform="translate(978.2 1363.6) rotate(-30) scale(1.1 1)" text-anchor="middle" y="8.1">150</text>
<text class="dt" font-size="22.5" transform="translate(1151.4 1258.4) rotate(-30) scale(1.1 1)" text-anchor="middle" y="8.1">250</text>
<text class="dt" font-size="22.5" transform="translate(1391.6 1116.4) rotate(-30) scale(1.1 1)" text-anchor="middle" y="8.1">W</text>
<path class="ah" d="M840.2 1361.8L845.7 1350.8L849.5 1353.9Z"/>
<path class="ah" d="M938.2 1361.8L928.9 1353.9L932.7 1350.8Z"/>
<text class="dt" font-size="22.5" transform="translate(886.5 1321.5) rotate(0) scale(1.1 1)" text-anchor="middle" y="8.1">90</text>
<circle cx="903.6" cy="1313.6" r="1.9" fill="none" stroke="#2b2a2a" stroke-width="0.9"/>
</svg>
<!-- table left -->
<span class="t " style="left:144.9px;top:1408.3px;font-size:20.3px;line-height:20.3px;transform:scaleX(1.1123);">Mã sản phẩm</span>
<span class="t tb" style="left:459.7px;top:1410.0px;font-size:20.3px;line-height:20.3px;transform-origin:50% 50%;transform:scaleX(1.1130);">H</span>
<span class="t tb" style="left:513.5px;top:1410.0px;font-size:20.3px;line-height:20.3px;transform-origin:50% 50%;transform:scaleX(1.1130);">W</span>
<span class="t tb" style="left:581.4px;top:1410.0px;font-size:20.3px;line-height:20.3px;transform-origin:50% 50%;transform:scaleX(1.1130);">L</span>
<span class="t tb" style="left:633.6px;top:1410.0px;font-size:20.3px;line-height:20.3px;transform-origin:50% 50%;transform:scaleX(1.1130);">P</span>
<span class="t tb" style="left:684.1px;top:1410.0px;font-size:20.3px;line-height:20.3px;transform-origin:50% 50%;transform:scaleX(1.1130);">A</span>
<span class="t tb" style="left:757.1px;top:1410.0px;font-size:20.3px;line-height:20.3px;transform-origin:50% 50%;transform:scaleX(1.1130);">t</span>
<span class="t tb" style="left:804.7px;top:1410.0px;font-size:20.3px;line-height:20.3px;transform-origin:50% 50%;transform:scaleX(1.0800);">m (kg)</span>
<svg width="1767" height="2500" viewBox="0 0 1767 2500"><path d="M145.4 1438.50H862.2M145.4 1475.88H862.2M145.4 1513.26H862.2M145.4 1550.64H862.2M145.4 1588.02H862.2M145.4 1625.40H862.2M145.4 1662.78H862.2M145.4 1700.16H862.2M145.4 1737.54H862.2M145.4 1774.92H862.2M145.4 1812.30H862.2M145.4 1849.68H862.2M145.4 1887.06H862.2M145.4 1924.44H862.2M145.4 1961.82H862.2M145.4 1999.20H862.2M145.4 2036.58H862.2M145.4 2073.96H862.2M145.4 2111.34H862.2M145.4 2148.72H862.2M145.4 2186.10H862.2M441.9 1405V2187.00M492.1 1405V2187.00M554.1 1405V2187.00M620.0 1405V2187.00M660.7 1405V2187.00M721.0 1405V2187.00M798.8 1405V2187.00" fill="none" stroke="#2d2b2c" stroke-width="2"/></svg>
<span class="t tb" style="left:148.7px;top:1448.0px;font-size:20.3px;line-height:20.3px;transform:scaleX(1.1130);">VL/LG/EC/2-6/H50W150</span>
<span class="t tb" style="left:455.7px;top:1448.0px;font-size:20.3px;line-height:20.3px;transform-origin:50% 50%;transform:scaleX(1.1130);">50</span>
<span class="t tb" style="left:506.2px;top:1448.0px;font-size:20.3px;line-height:20.3px;transform-origin:50% 50%;transform:scaleX(1.1130);">150</span>
<span class="t tb" style="left:570.1px;top:1448.0px;font-size:20.3px;line-height:20.3px;transform-origin:50% 50%;transform:scaleX(1.1130);">950</span>
<span class="t tb" style="left:634.7px;top:1448.0px;font-size:20.3px;line-height:20.3px;transform-origin:50% 50%;transform:scaleX(1.1130);">1</span>
<span class="t tb" style="left:673.9px;top:1448.0px;font-size:20.3px;line-height:20.3px;transform-origin:50% 50%;transform:scaleX(1.1130);">225</span>
<span class="t tb" style="left:745.8px;top:1448.0px;font-size:20.3px;line-height:20.3px;transform-origin:50% 50%;transform:scaleX(1.1130);">1.5</span>
<span class="t tb" style="left:816.4px;top:1448.0px;font-size:20.3px;line-height:20.3px;transform-origin:50% 50%;transform:scaleX(1.1130);">5.5</span>
<span class="t tb" style="left:148.7px;top:1485.4px;font-size:20.3px;line-height:20.3px;transform:scaleX(1.1130);">VL/LG/EC/2-8/H50W200</span>
<span class="t tb" style="left:455.7px;top:1485.4px;font-size:20.3px;line-height:20.3px;transform-origin:50% 50%;transform:scaleX(1.1130);">50</span>
<span class="t tb" style="left:506.2px;top:1485.4px;font-size:20.3px;line-height:20.3px;transform-origin:50% 50%;transform:scaleX(1.1130);">200</span>
<span class="t tb" style="left:564.5px;top:1485.4px;font-size:20.3px;line-height:20.3px;transform-origin:50% 50%;transform:scaleX(1.1130);">1000</span>
<span class="t tb" style="left:634.7px;top:1485.4px;font-size:20.3px;line-height:20.3px;transform-origin:50% 50%;transform:scaleX(1.1130);">1</span>
<span class="t tb" style="left:673.9px;top:1485.4px;font-size:20.3px;line-height:20.3px;transform-origin:50% 50%;transform:scaleX(1.1130);">250</span>
<span class="t tb" style="left:745.8px;top:1485.4px;font-size:20.3px;line-height:20.3px;transform-origin:50% 50%;transform:scaleX(1.1130);">1.5</span>
<span class="t tb" style="left:816.4px;top:1485.4px;font-size:20.3px;line-height:20.3px;transform-origin:50% 50%;transform:scaleX(1.1130);">5.9</span>
<span class="t tb" style="left:148.7px;top:1522.8px;font-size:20.3px;line-height:20.3px;transform:scaleX(1.1130);">VL/LG/EC/2-10/H50W250</span>
<span class="t tb" style="left:455.7px;top:1522.8px;font-size:20.3px;line-height:20.3px;transform-origin:50% 50%;transform:scaleX(1.1130);">50</span>
<span class="t tb" style="left:506.2px;top:1522.8px;font-size:20.3px;line-height:20.3px;transform-origin:50% 50%;transform:scaleX(1.1130);">250</span>
<span class="t tb" style="left:564.5px;top:1522.8px;font-size:20.3px;line-height:20.3px;transform-origin:50% 50%;transform:scaleX(1.1130);">1050</span>
<span class="t tb" style="left:634.7px;top:1522.8px;font-size:20.3px;line-height:20.3px;transform-origin:50% 50%;transform:scaleX(1.1130);">1</span>
<span class="t tb" style="left:673.9px;top:1522.8px;font-size:20.3px;line-height:20.3px;transform-origin:50% 50%;transform:scaleX(1.1130);">275</span>
<span class="t tb" style="left:745.8px;top:1522.8px;font-size:20.3px;line-height:20.3px;transform-origin:50% 50%;transform:scaleX(1.1130);">1.5</span>
<span class="t tb" style="left:816.4px;top:1522.8px;font-size:20.3px;line-height:20.3px;transform-origin:50% 50%;transform:scaleX(1.1130);">6.4</span>
<span class="t tb" style="left:148.7px;top:1560.1px;font-size:20.3px;line-height:20.3px;transform:scaleX(1.1130);">VL/LG/EC/2-12/H50W300</span>
<span class="t tb" style="left:455.7px;top:1560.1px;font-size:20.3px;line-height:20.3px;transform-origin:50% 50%;transform:scaleX(1.1130);">50</span>
<span class="t tb" style="left:506.2px;top:1560.1px;font-size:20.3px;line-height:20.3px;transform-origin:50% 50%;transform:scaleX(1.1130);">300</span>
<span class="t tb" style="left:565.2px;top:1560.1px;font-size:20.3px;line-height:20.3px;transform-origin:50% 50%;transform:scaleX(1.1130);">1150</span>
<span class="t tb" style="left:634.7px;top:1560.1px;font-size:20.3px;line-height:20.3px;transform-origin:50% 50%;transform:scaleX(1.1130);">1</span>
<span class="t tb" style="left:673.9px;top:1560.1px;font-size:20.3px;line-height:20.3px;transform-origin:50% 50%;transform:scaleX(1.1130);">300</span>
<span class="t tb" style="left:745.8px;top:1560.1px;font-size:20.3px;line-height:20.3px;transform-origin:50% 50%;transform:scaleX(1.1130);">1.5</span>
<span class="t tb" style="left:816.4px;top:1560.1px;font-size:20.3px;line-height:20.3px;transform-origin:50% 50%;transform:scaleX(1.1130);">6.8</span>
<span class="t tb" style="left:148.7px;top:1597.5px;font-size:20.3px;line-height:20.3px;transform:scaleX(1.1130);">VL/LG/EC/3-6/H75W150</span>
<span class="t tb" style="left:455.7px;top:1597.5px;font-size:20.3px;line-height:20.3px;transform-origin:50% 50%;transform:scaleX(1.1130);">75</span>
<span class="t tb" style="left:506.2px;top:1597.5px;font-size:20.3px;line-height:20.3px;transform-origin:50% 50%;transform:scaleX(1.1130);">150</span>
<span class="t tb" style="left:570.1px;top:1597.5px;font-size:20.3px;line-height:20.3px;transform-origin:50% 50%;transform:scaleX(1.1130);">950</span>
<span class="t tb" style="left:634.7px;top:1597.5px;font-size:20.3px;line-height:20.3px;transform-origin:50% 50%;transform:scaleX(1.1130);">1</span>
<span class="t tb" style="left:673.9px;top:1597.5px;font-size:20.3px;line-height:20.3px;transform-origin:50% 50%;transform:scaleX(1.1130);">225</span>
<span class="t tb" style="left:745.8px;top:1597.5px;font-size:20.3px;line-height:20.3px;transform-origin:50% 50%;transform:scaleX(1.1130);">1.5</span>
<span class="t tb" style="left:816.4px;top:1597.5px;font-size:20.3px;line-height:20.3px;transform-origin:50% 50%;transform:scaleX(1.1130);">6.2</span>
<span class="t tb" style="left:148.7px;top:1634.9px;font-size:20.3px;line-height:20.3px;transform:scaleX(1.1130);">VL/LG/EC/3-8/H75W200</span>
<span class="t tb" style="left:455.7px;top:1634.9px;font-size:20.3px;line-height:20.3px;transform-origin:50% 50%;transform:scaleX(1.1130);">75</span>
<span class="t tb" style="left:506.2px;top:1634.9px;font-size:20.3px;line-height:20.3px;transform-origin:50% 50%;transform:scaleX(1.1130);">200</span>
<span class="t tb" style="left:564.5px;top:1634.9px;font-size:20.3px;line-height:20.3px;transform-origin:50% 50%;transform:scaleX(1.1130);">1000</span>
<span class="t tb" style="left:634.7px;top:1634.9px;font-size:20.3px;line-height:20.3px;transform-origin:50% 50%;transform:scaleX(1.1130);">1</span>
<span class="t tb" style="left:673.9px;top:1634.9px;font-size:20.3px;line-height:20.3px;transform-origin:50% 50%;transform:scaleX(1.1130);">250</span>
<span class="t tb" style="left:745.8px;top:1634.9px;font-size:20.3px;line-height:20.3px;transform-origin:50% 50%;transform:scaleX(1.1130);">1.5</span>
<span class="t tb" style="left:816.4px;top:1634.9px;font-size:20.3px;line-height:20.3px;transform-origin:50% 50%;transform:scaleX(1.1130);">6.7</span>
<span class="t tb" style="left:148.7px;top:1672.3px;font-size:20.3px;line-height:20.3px;transform:scaleX(1.1130);">VL/LG/EC/3-10/H75W250</span>
<span class="t tb" style="left:455.7px;top:1672.3px;font-size:20.3px;line-height:20.3px;transform-origin:50% 50%;transform:scaleX(1.1130);">75</span>
<span class="t tb" style="left:506.2px;top:1672.3px;font-size:20.3px;line-height:20.3px;transform-origin:50% 50%;transform:scaleX(1.1130);">250</span>
<span class="t tb" style="left:564.5px;top:1672.3px;font-size:20.3px;line-height:20.3px;transform-origin:50% 50%;transform:scaleX(1.1130);">1050</span>
<span class="t tb" style="left:634.7px;top:1672.3px;font-size:20.3px;line-height:20.3px;transform-origin:50% 50%;transform:scaleX(1.1130);">1</span>
<span class="t tb" style="left:673.9px;top:1672.3px;font-size:20.3px;line-height:20.3px;transform-origin:50% 50%;transform:scaleX(1.1130);">275</span>
<span class="t tb" style="left:745.8px;top:1672.3px;font-size:20.3px;line-height:20.3px;transform-origin:50% 50%;transform:scaleX(1.1130);">1.5</span>
<span class="t tb" style="left:816.4px;top:1672.3px;font-size:20.3px;line-height:20.3px;transform-origin:50% 50%;transform:scaleX(1.1130);">7.1</span>
<span class="t tb" style="left:148.7px;top:1709.7px;font-size:20.3px;line-height:20.3px;transform:scaleX(1.1130);">VL/LG/EC/3-12/H75W300</span>
<span class="t tb" style="left:455.7px;top:1709.7px;font-size:20.3px;line-height:20.3px;transform-origin:50% 50%;transform:scaleX(1.1130);">75</span>
<span class="t tb" style="left:506.2px;top:1709.7px;font-size:20.3px;line-height:20.3px;transform-origin:50% 50%;transform:scaleX(1.1130);">300</span>
<span class="t tb" style="left:565.2px;top:1709.7px;font-size:20.3px;line-height:20.3px;transform-origin:50% 50%;transform:scaleX(1.1130);">1150</span>
<span class="t tb" style="left:634.7px;top:1709.7px;font-size:20.3px;line-height:20.3px;transform-origin:50% 50%;transform:scaleX(1.1130);">1</span>
<span class="t tb" style="left:673.9px;top:1709.7px;font-size:20.3px;line-height:20.3px;transform-origin:50% 50%;transform:scaleX(1.1130);">300</span>
<span class="t tb" style="left:745.8px;top:1709.7px;font-size:20.3px;line-height:20.3px;transform-origin:50% 50%;transform:scaleX(1.1130);">1.5</span>
<span class="t tb" style="left:816.4px;top:1709.7px;font-size:20.3px;line-height:20.3px;transform-origin:50% 50%;transform:scaleX(1.1130);">7.6</span>
<span class="t tb" style="left:148.7px;top:1747.0px;font-size:20.3px;line-height:20.3px;transform:scaleX(1.1130);">VL/LG/EC/4-6/H100W150</span>
<span class="t tb" style="left:450.1px;top:1747.0px;font-size:20.3px;line-height:20.3px;transform-origin:50% 50%;transform:scaleX(1.1130);">100</span>
<span class="t tb" style="left:506.2px;top:1747.0px;font-size:20.3px;line-height:20.3px;transform-origin:50% 50%;transform:scaleX(1.1130);">150</span>
<span class="t tb" style="left:570.1px;top:1747.0px;font-size:20.3px;line-height:20.3px;transform-origin:50% 50%;transform:scaleX(1.1130);">950</span>
<span class="t tb" style="left:634.7px;top:1747.0px;font-size:20.3px;line-height:20.3px;transform-origin:50% 50%;transform:scaleX(1.1130);">1</span>
<span class="t tb" style="left:673.9px;top:1747.0px;font-size:20.3px;line-height:20.3px;transform-origin:50% 50%;transform:scaleX(1.1130);">225</span>
<span class="t tb" style="left:745.8px;top:1747.0px;font-size:20.3px;line-height:20.3px;transform-origin:50% 50%;transform:scaleX(1.1130);">2.0</span>
<span class="t tb" style="left:816.4px;top:1747.0px;font-size:20.3px;line-height:20.3px;transform-origin:50% 50%;transform:scaleX(1.1130);">8.4</span>
<span class="t tb" style="left:148.7px;top:1784.4px;font-size:20.3px;line-height:20.3px;transform:scaleX(1.1130);">VL/LG/EC/4-8/H100W200</span>
<span class="t tb" style="left:450.1px;top:1784.4px;font-size:20.3px;line-height:20.3px;transform-origin:50% 50%;transform:scaleX(1.1130);">100</span>
<span class="t tb" style="left:506.2px;top:1784.4px;font-size:20.3px;line-height:20.3px;transform-origin:50% 50%;transform:scaleX(1.1130);">200</span>
<span class="t tb" style="left:564.5px;top:1784.4px;font-size:20.3px;line-height:20.3px;transform-origin:50% 50%;transform:scaleX(1.1130);">1000</span>
<span class="t tb" style="left:634.7px;top:1784.4px;font-size:20.3px;line-height:20.3px;transform-origin:50% 50%;transform:scaleX(1.1130);">1</span>
<span class="t tb" style="left:673.9px;top:1784.4px;font-size:20.3px;line-height:20.3px;transform-origin:50% 50%;transform:scaleX(1.1130);">250</span>
<span class="t tb" style="left:745.8px;top:1784.4px;font-size:20.3px;line-height:20.3px;transform-origin:50% 50%;transform:scaleX(1.1130);">2.0</span>
<span class="t tb" style="left:816.4px;top:1784.4px;font-size:20.3px;line-height:20.3px;transform-origin:50% 50%;transform:scaleX(1.1130);">8.9</span>
<span class="t tb" style="left:148.7px;top:1821.8px;font-size:20.3px;line-height:20.3px;transform:scaleX(1.1130);">VL/LG/EC/4-10/H100W250</span>
<span class="t tb" style="left:450.1px;top:1821.8px;font-size:20.3px;line-height:20.3px;transform-origin:50% 50%;transform:scaleX(1.1130);">100</span>
<span class="t tb" style="left:506.2px;top:1821.8px;font-size:20.3px;line-height:20.3px;transform-origin:50% 50%;transform:scaleX(1.1130);">250</span>
<span class="t tb" style="left:564.5px;top:1821.8px;font-size:20.3px;line-height:20.3px;transform-origin:50% 50%;transform:scaleX(1.1130);">1050</span>
<span class="t tb" style="left:634.7px;top:1821.8px;font-size:20.3px;line-height:20.3px;transform-origin:50% 50%;transform:scaleX(1.1130);">1</span>
<span class="t tb" style="left:673.9px;top:1821.8px;font-size:20.3px;line-height:20.3px;transform-origin:50% 50%;transform:scaleX(1.1130);">275</span>
<span class="t tb" style="left:745.8px;top:1821.8px;font-size:20.3px;line-height:20.3px;transform-origin:50% 50%;transform:scaleX(1.1130);">2.0</span>
<span class="t tb" style="left:816.4px;top:1821.8px;font-size:20.3px;line-height:20.3px;transform-origin:50% 50%;transform:scaleX(1.1130);">9.3</span>
<span class="t tb" style="left:148.7px;top:1859.2px;font-size:20.3px;line-height:20.3px;transform:scaleX(1.1130);">VL/LG/EC/4-12/H100W300</span>
<span class="t tb" style="left:450.1px;top:1859.2px;font-size:20.3px;line-height:20.3px;transform-origin:50% 50%;transform:scaleX(1.1130);">100</span>
<span class="t tb" style="left:506.2px;top:1859.2px;font-size:20.3px;line-height:20.3px;transform-origin:50% 50%;transform:scaleX(1.1130);">300</span>
<span class="t tb" style="left:565.2px;top:1859.2px;font-size:20.3px;line-height:20.3px;transform-origin:50% 50%;transform:scaleX(1.1130);">1150</span>
<span class="t tb" style="left:634.7px;top:1859.2px;font-size:20.3px;line-height:20.3px;transform-origin:50% 50%;transform:scaleX(1.1130);">1</span>
<span class="t tb" style="left:673.9px;top:1859.2px;font-size:20.3px;line-height:20.3px;transform-origin:50% 50%;transform:scaleX(1.1130);">300</span>
<span class="t tb" style="left:745.8px;top:1859.2px;font-size:20.3px;line-height:20.3px;transform-origin:50% 50%;transform:scaleX(1.1130);">2.0</span>
<span class="t tb" style="left:816.4px;top:1859.2px;font-size:20.3px;line-height:20.3px;transform-origin:50% 50%;transform:scaleX(1.1130);">9.8</span>
<span class="t tb" style="left:148.7px;top:1896.6px;font-size:20.3px;line-height:20.3px;transform:scaleX(1.1130);">VL/LG/EC/4-16/H100W400</span>
<span class="t tb" style="left:450.1px;top:1896.6px;font-size:20.3px;line-height:20.3px;transform-origin:50% 50%;transform:scaleX(1.1130);">100</span>
<span class="t tb" style="left:506.2px;top:1896.6px;font-size:20.3px;line-height:20.3px;transform-origin:50% 50%;transform:scaleX(1.1130);">400</span>
<span class="t tb" style="left:564.5px;top:1896.6px;font-size:20.3px;line-height:20.3px;transform-origin:50% 50%;transform:scaleX(1.1130);">1200</span>
<span class="t tb" style="left:634.7px;top:1896.6px;font-size:20.3px;line-height:20.3px;transform-origin:50% 50%;transform:scaleX(1.1130);">2</span>
<span class="t tb" style="left:673.9px;top:1896.6px;font-size:20.3px;line-height:20.3px;transform-origin:50% 50%;transform:scaleX(1.1130);">225</span>
<span class="t tb" style="left:745.8px;top:1896.6px;font-size:20.3px;line-height:20.3px;transform-origin:50% 50%;transform:scaleX(1.1130);">2.0</span>
<span class="t tb" style="left:811.5px;top:1896.6px;font-size:20.3px;line-height:20.3px;transform-origin:50% 50%;transform:scaleX(1.1130);">11.2</span>
<span class="t tb" style="left:148.7px;top:1933.9px;font-size:20.3px;line-height:20.3px;transform:scaleX(1.1130);">VL/LG/EC/4-18/H100W450</span>
<span class="t tb" style="left:450.1px;top:1933.9px;font-size:20.3px;line-height:20.3px;transform-origin:50% 50%;transform:scaleX(1.1130);">100</span>
<span class="t tb" style="left:506.2px;top:1933.9px;font-size:20.3px;line-height:20.3px;transform-origin:50% 50%;transform:scaleX(1.1130);">450</span>
<span class="t tb" style="left:564.5px;top:1933.9px;font-size:20.3px;line-height:20.3px;transform-origin:50% 50%;transform:scaleX(1.1130);">1250</span>
<span class="t tb" style="left:634.7px;top:1933.9px;font-size:20.3px;line-height:20.3px;transform-origin:50% 50%;transform:scaleX(1.1130);">2</span>
<span class="t tb" style="left:673.9px;top:1933.9px;font-size:20.3px;line-height:20.3px;transform-origin:50% 50%;transform:scaleX(1.1130);">250</span>
<span class="t tb" style="left:745.8px;top:1933.9px;font-size:20.3px;line-height:20.3px;transform-origin:50% 50%;transform:scaleX(1.1130);">2.0</span>
<span class="t tb" style="left:811.5px;top:1933.9px;font-size:20.3px;line-height:20.3px;transform-origin:50% 50%;transform:scaleX(1.1130);">11.7</span>
<span class="t tb" style="left:148.7px;top:1971.3px;font-size:20.3px;line-height:20.3px;transform:scaleX(1.1130);">VL/LG/EC/4-20/H100W500</span>
<span class="t tb" style="left:450.1px;top:1971.3px;font-size:20.3px;line-height:20.3px;transform-origin:50% 50%;transform:scaleX(1.1130);">100</span>
<span class="t tb" style="left:506.2px;top:1971.3px;font-size:20.3px;line-height:20.3px;transform-origin:50% 50%;transform:scaleX(1.1130);">500</span>
<span class="t tb" style="left:564.5px;top:1971.3px;font-size:20.3px;line-height:20.3px;transform-origin:50% 50%;transform:scaleX(1.1130);">1300</span>
<span class="t tb" style="left:634.7px;top:1971.3px;font-size:20.3px;line-height:20.3px;transform-origin:50% 50%;transform:scaleX(1.1130);">2</span>
<span class="t tb" style="left:673.9px;top:1971.3px;font-size:20.3px;line-height:20.3px;transform-origin:50% 50%;transform:scaleX(1.1130);">275</span>
<span class="t tb" style="left:745.8px;top:1971.3px;font-size:20.3px;line-height:20.3px;transform-origin:50% 50%;transform:scaleX(1.1130);">2.0</span>
<span class="t tb" style="left:810.7px;top:1971.3px;font-size:20.3px;line-height:20.3px;transform-origin:50% 50%;transform:scaleX(1.1130);">12.2</span>
<span class="t tb" style="left:148.7px;top:2008.7px;font-size:20.3px;line-height:20.3px;transform:scaleX(1.1130);">VL/LG/EC/4-24/H100W600</span>
<span class="t tb" style="left:450.1px;top:2008.7px;font-size:20.3px;line-height:20.3px;transform-origin:50% 50%;transform:scaleX(1.1130);">100</span>
<span class="t tb" style="left:506.2px;top:2008.7px;font-size:20.3px;line-height:20.3px;transform-origin:50% 50%;transform:scaleX(1.1130);">600</span>
<span class="t tb" style="left:564.5px;top:2008.7px;font-size:20.3px;line-height:20.3px;transform-origin:50% 50%;transform:scaleX(1.1130);">1400</span>
<span class="t tb" style="left:634.7px;top:2008.7px;font-size:20.3px;line-height:20.3px;transform-origin:50% 50%;transform:scaleX(1.1130);">3</span>
<span class="t tb" style="left:673.9px;top:2008.7px;font-size:20.3px;line-height:20.3px;transform-origin:50% 50%;transform:scaleX(1.1130);">200</span>
<span class="t tb" style="left:745.8px;top:2008.7px;font-size:20.3px;line-height:20.3px;transform-origin:50% 50%;transform:scaleX(1.1130);">2.0</span>
<span class="t tb" style="left:810.7px;top:2008.7px;font-size:20.3px;line-height:20.3px;transform-origin:50% 50%;transform:scaleX(1.1130);">13.9</span>
<span class="t tb" style="left:148.7px;top:2046.1px;font-size:20.3px;line-height:20.3px;transform:scaleX(1.1130);">VL/LG/EC/4-30/H100W750</span>
<span class="t tb" style="left:450.1px;top:2046.1px;font-size:20.3px;line-height:20.3px;transform-origin:50% 50%;transform:scaleX(1.1130);">100</span>
<span class="t tb" style="left:506.2px;top:2046.1px;font-size:20.3px;line-height:20.3px;transform-origin:50% 50%;transform:scaleX(1.1130);">750</span>
<span class="t tb" style="left:564.5px;top:2046.1px;font-size:20.3px;line-height:20.3px;transform-origin:50% 50%;transform:scaleX(1.1130);">1550</span>
<span class="t tb" style="left:634.7px;top:2046.1px;font-size:20.3px;line-height:20.3px;transform-origin:50% 50%;transform:scaleX(1.1130);">3</span>
<span class="t tb" style="left:673.9px;top:2046.1px;font-size:20.3px;line-height:20.3px;transform-origin:50% 50%;transform:scaleX(1.1130);">275</span>
<span class="t tb" style="left:745.8px;top:2046.1px;font-size:20.3px;line-height:20.3px;transform-origin:50% 50%;transform:scaleX(1.1130);">2.0</span>
<span class="t tb" style="left:810.7px;top:2046.1px;font-size:20.3px;line-height:20.3px;transform-origin:50% 50%;transform:scaleX(1.1130);">15.6</span>
<span class="t tb" style="left:148.7px;top:2083.5px;font-size:20.3px;line-height:20.3px;transform:scaleX(1.1130);">VL/LG/EC/4-36/H100W900</span>
<span class="t tb" style="left:450.1px;top:2083.5px;font-size:20.3px;line-height:20.3px;transform-origin:50% 50%;transform:scaleX(1.1130);">100</span>
<span class="t tb" style="left:506.2px;top:2083.5px;font-size:20.3px;line-height:20.3px;transform-origin:50% 50%;transform:scaleX(1.1130);">900</span>
<span class="t tb" style="left:564.5px;top:2083.5px;font-size:20.3px;line-height:20.3px;transform-origin:50% 50%;transform:scaleX(1.1130);">1700</span>
<span class="t tb" style="left:634.7px;top:2083.5px;font-size:20.3px;line-height:20.3px;transform-origin:50% 50%;transform:scaleX(1.1130);">4</span>
<span class="t tb" style="left:673.9px;top:2083.5px;font-size:20.3px;line-height:20.3px;transform-origin:50% 50%;transform:scaleX(1.1130);">225</span>
<span class="t tb" style="left:745.8px;top:2083.5px;font-size:20.3px;line-height:20.3px;transform-origin:50% 50%;transform:scaleX(1.1130);">2.0</span>
<span class="t tb" style="left:810.7px;top:2083.5px;font-size:20.3px;line-height:20.3px;transform-origin:50% 50%;transform:scaleX(1.1130);">18.4</span>
<span class="t tb" style="left:148.7px;top:2120.8px;font-size:20.3px;line-height:20.3px;transform:scaleX(1.1130);">VL/LG/EC/4-40/H100W1000</span>
<span class="t tb" style="left:450.1px;top:2120.8px;font-size:20.3px;line-height:20.3px;transform-origin:50% 50%;transform:scaleX(1.1130);">100</span>
<span class="t tb" style="left:500.5px;top:2120.8px;font-size:20.3px;line-height:20.3px;transform-origin:50% 50%;transform:scaleX(1.1130);">1000</span>
<span class="t tb" style="left:564.5px;top:2120.8px;font-size:20.3px;line-height:20.3px;transform-origin:50% 50%;transform:scaleX(1.1130);">1800</span>
<span class="t tb" style="left:634.7px;top:2120.8px;font-size:20.3px;line-height:20.3px;transform-origin:50% 50%;transform:scaleX(1.1130);">4</span>
<span class="t tb" style="left:673.9px;top:2120.8px;font-size:20.3px;line-height:20.3px;transform-origin:50% 50%;transform:scaleX(1.1130);">275</span>
<span class="t tb" style="left:745.8px;top:2120.8px;font-size:20.3px;line-height:20.3px;transform-origin:50% 50%;transform:scaleX(1.1130);">2.0</span>
<span class="t tb" style="left:810.7px;top:2120.8px;font-size:20.3px;line-height:20.3px;transform-origin:50% 50%;transform:scaleX(1.1130);">19.6</span>
<span class="t tb" style="left:148.7px;top:2158.2px;font-size:20.3px;line-height:20.3px;transform:scaleX(1.1130);">VL/LG/EC/5-8/H125W200</span>
<span class="t tb" style="left:450.1px;top:2158.2px;font-size:20.3px;line-height:20.3px;transform-origin:50% 50%;transform:scaleX(1.1130);">125</span>
<span class="t tb" style="left:506.2px;top:2158.2px;font-size:20.3px;line-height:20.3px;transform-origin:50% 50%;transform:scaleX(1.1130);">200</span>
<span class="t tb" style="left:564.5px;top:2158.2px;font-size:20.3px;line-height:20.3px;transform-origin:50% 50%;transform:scaleX(1.1130);">1000</span>
<span class="t tb" style="left:634.7px;top:2158.2px;font-size:20.3px;line-height:20.3px;transform-origin:50% 50%;transform:scaleX(1.1130);">1</span>
<span class="t tb" style="left:673.9px;top:2158.2px;font-size:20.3px;line-height:20.3px;transform-origin:50% 50%;transform:scaleX(1.1130);">250</span>
<span class="t tb" style="left:745.8px;top:2158.2px;font-size:20.3px;line-height:20.3px;transform-origin:50% 50%;transform:scaleX(1.1130);">2.0</span>
<span class="t tb" style="left:816.4px;top:2158.2px;font-size:20.3px;line-height:20.3px;transform-origin:50% 50%;transform:scaleX(1.1130);">9.9</span>
<!-- table right -->
<span class="t " style="left:930.7px;top:1408.3px;font-size:20.3px;line-height:20.3px;transform:scaleX(1.1123);">Mã sản phẩm</span>
<span class="t tb" style="left:1234.1px;top:1410.0px;font-size:20.3px;line-height:20.3px;transform-origin:50% 50%;transform:scaleX(1.1130);">H</span>
<span class="t tb" style="left:1287.9px;top:1410.0px;font-size:20.3px;line-height:20.3px;transform-origin:50% 50%;transform:scaleX(1.1130);">W</span>
<span class="t tb" style="left:1355.8px;top:1410.0px;font-size:20.3px;line-height:20.3px;transform-origin:50% 50%;transform:scaleX(1.1130);">L</span>
<span class="t tb" style="left:1408.0px;top:1410.0px;font-size:20.3px;line-height:20.3px;transform-origin:50% 50%;transform:scaleX(1.1130);">P</span>
<span class="t tb" style="left:1458.5px;top:1410.0px;font-size:20.3px;line-height:20.3px;transform-origin:50% 50%;transform:scaleX(1.1130);">A</span>
<span class="t tb" style="left:1531.5px;top:1410.0px;font-size:20.3px;line-height:20.3px;transform-origin:50% 50%;transform:scaleX(1.1130);">t</span>
<span class="t tb" style="left:1579.1px;top:1410.0px;font-size:20.3px;line-height:20.3px;transform-origin:50% 50%;transform:scaleX(1.0800);">m (kg)</span>
<svg width="1767" height="2500" viewBox="0 0 1767 2500"><path d="M919.8 1438.50H1636.6M919.8 1475.88H1636.6M919.8 1513.26H1636.6M919.8 1550.64H1636.6M919.8 1588.02H1636.6M919.8 1625.40H1636.6M919.8 1662.78H1636.6M919.8 1700.16H1636.6M919.8 1737.54H1636.6M919.8 1774.92H1636.6M919.8 1812.30H1636.6M919.8 1849.68H1636.6M919.8 1887.06H1636.6M919.8 1924.44H1636.6M919.8 1961.82H1636.6M919.8 1999.20H1636.6M919.8 2036.58H1636.6M919.8 2073.96H1636.6M919.8 2111.34H1636.6M919.8 2148.72H1636.6M919.8 2186.10H1636.6M1216.3 1405V2187.00M1266.5 1405V2187.00M1328.5 1405V2187.00M1394.4 1405V2187.00M1435.1 1405V2187.00M1495.4 1405V2187.00M1573.2 1405V2187.00" fill="none" stroke="#2d2b2c" stroke-width="2"/></svg>
<div class="r" style="left:1264.5px;top:1738.9px;width:4.0px;height:34.6px;background:#fff"></div>
<span class="t tb" style="left:923.1px;top:1448.0px;font-size:20.3px;line-height:20.3px;transform:scaleX(1.1130);">VL/LG/EC/5-10/H125W250</span>
<span class="t tb" style="left:1224.5px;top:1448.0px;font-size:20.3px;line-height:20.3px;transform-origin:50% 50%;transform:scaleX(1.1130);">125</span>
<span class="t tb" style="left:1280.6px;top:1448.0px;font-size:20.3px;line-height:20.3px;transform-origin:50% 50%;transform:scaleX(1.1130);">250</span>
<span class="t tb" style="left:1338.9px;top:1448.0px;font-size:20.3px;line-height:20.3px;transform-origin:50% 50%;transform:scaleX(1.1130);">1050</span>
<span class="t tb" style="left:1409.1px;top:1448.0px;font-size:20.3px;line-height:20.3px;transform-origin:50% 50%;transform:scaleX(1.1130);">1</span>
<span class="t tb" style="left:1448.3px;top:1448.0px;font-size:20.3px;line-height:20.3px;transform-origin:50% 50%;transform:scaleX(1.1130);">275</span>
<span class="t tb" style="left:1520.2px;top:1448.0px;font-size:20.3px;line-height:20.3px;transform-origin:50% 50%;transform:scaleX(1.1130);">2.0</span>
<span class="t tb" style="left:1585.1px;top:1448.0px;font-size:20.3px;line-height:20.3px;transform-origin:50% 50%;transform:scaleX(1.1130);">10.3</span>
<span class="t tb" style="left:923.1px;top:1485.4px;font-size:20.3px;line-height:20.3px;transform:scaleX(1.1130);">VL/LG/EC/5-12/H125W300</span>
<span class="t tb" style="left:1224.5px;top:1485.4px;font-size:20.3px;line-height:20.3px;transform-origin:50% 50%;transform:scaleX(1.1130);">125</span>
<span class="t tb" style="left:1280.6px;top:1485.4px;font-size:20.3px;line-height:20.3px;transform-origin:50% 50%;transform:scaleX(1.1130);">300</span>
<span class="t tb" style="left:1339.6px;top:1485.4px;font-size:20.3px;line-height:20.3px;transform-origin:50% 50%;transform:scaleX(1.1130);">1150</span>
<span class="t tb" style="left:1409.1px;top:1485.4px;font-size:20.3px;line-height:20.3px;transform-origin:50% 50%;transform:scaleX(1.1130);">1</span>
<span class="t tb" style="left:1448.3px;top:1485.4px;font-size:20.3px;line-height:20.3px;transform-origin:50% 50%;transform:scaleX(1.1130);">300</span>
<span class="t tb" style="left:1520.2px;top:1485.4px;font-size:20.3px;line-height:20.3px;transform-origin:50% 50%;transform:scaleX(1.1130);">2.0</span>
<span class="t tb" style="left:1585.1px;top:1485.4px;font-size:20.3px;line-height:20.3px;transform-origin:50% 50%;transform:scaleX(1.1130);">10.8</span>
<span class="t tb" style="left:923.1px;top:1522.8px;font-size:20.3px;line-height:20.3px;transform:scaleX(1.1130);">VL/LG/EC/5-16/H125W400</span>
<span class="t tb" style="left:1224.5px;top:1522.8px;font-size:20.3px;line-height:20.3px;transform-origin:50% 50%;transform:scaleX(1.1130);">125</span>
<span class="t tb" style="left:1280.6px;top:1522.8px;font-size:20.3px;line-height:20.3px;transform-origin:50% 50%;transform:scaleX(1.1130);">400</span>
<span class="t tb" style="left:1338.9px;top:1522.8px;font-size:20.3px;line-height:20.3px;transform-origin:50% 50%;transform:scaleX(1.1130);">1200</span>
<span class="t tb" style="left:1409.1px;top:1522.8px;font-size:20.3px;line-height:20.3px;transform-origin:50% 50%;transform:scaleX(1.1130);">2</span>
<span class="t tb" style="left:1448.3px;top:1522.8px;font-size:20.3px;line-height:20.3px;transform-origin:50% 50%;transform:scaleX(1.1130);">225</span>
<span class="t tb" style="left:1520.2px;top:1522.8px;font-size:20.3px;line-height:20.3px;transform-origin:50% 50%;transform:scaleX(1.1130);">2.0</span>
<span class="t tb" style="left:1585.1px;top:1522.8px;font-size:20.3px;line-height:20.3px;transform-origin:50% 50%;transform:scaleX(1.1130);">12.2</span>
<span class="t tb" style="left:923.1px;top:1560.1px;font-size:20.3px;line-height:20.3px;transform:scaleX(1.1130);">VL/LG/EC/5-18/H125W450</span>
<span class="t tb" style="left:1224.5px;top:1560.1px;font-size:20.3px;line-height:20.3px;transform-origin:50% 50%;transform:scaleX(1.1130);">125</span>
<span class="t tb" style="left:1280.6px;top:1560.1px;font-size:20.3px;line-height:20.3px;transform-origin:50% 50%;transform:scaleX(1.1130);">450</span>
<span class="t tb" style="left:1338.9px;top:1560.1px;font-size:20.3px;line-height:20.3px;transform-origin:50% 50%;transform:scaleX(1.1130);">1250</span>
<span class="t tb" style="left:1409.1px;top:1560.1px;font-size:20.3px;line-height:20.3px;transform-origin:50% 50%;transform:scaleX(1.1130);">2</span>
<span class="t tb" style="left:1448.3px;top:1560.1px;font-size:20.3px;line-height:20.3px;transform-origin:50% 50%;transform:scaleX(1.1130);">250</span>
<span class="t tb" style="left:1520.2px;top:1560.1px;font-size:20.3px;line-height:20.3px;transform-origin:50% 50%;transform:scaleX(1.1130);">2.0</span>
<span class="t tb" style="left:1585.1px;top:1560.1px;font-size:20.3px;line-height:20.3px;transform-origin:50% 50%;transform:scaleX(1.1130);">12.7</span>
<span class="t tb" style="left:923.1px;top:1597.5px;font-size:20.3px;line-height:20.3px;transform:scaleX(1.1130);">VL/LG/EC/5-20/H125W500</span>
<span class="t tb" style="left:1224.5px;top:1597.5px;font-size:20.3px;line-height:20.3px;transform-origin:50% 50%;transform:scaleX(1.1130);">125</span>
<span class="t tb" style="left:1280.6px;top:1597.5px;font-size:20.3px;line-height:20.3px;transform-origin:50% 50%;transform:scaleX(1.1130);">500</span>
<span class="t tb" style="left:1338.9px;top:1597.5px;font-size:20.3px;line-height:20.3px;transform-origin:50% 50%;transform:scaleX(1.1130);">1300</span>
<span class="t tb" style="left:1409.1px;top:1597.5px;font-size:20.3px;line-height:20.3px;transform-origin:50% 50%;transform:scaleX(1.1130);">2</span>
<span class="t tb" style="left:1448.3px;top:1597.5px;font-size:20.3px;line-height:20.3px;transform-origin:50% 50%;transform:scaleX(1.1130);">275</span>
<span class="t tb" style="left:1520.2px;top:1597.5px;font-size:20.3px;line-height:20.3px;transform-origin:50% 50%;transform:scaleX(1.1130);">2.0</span>
<span class="t tb" style="left:1585.1px;top:1597.5px;font-size:20.3px;line-height:20.3px;transform-origin:50% 50%;transform:scaleX(1.1130);">13.2</span>
<span class="t tb" style="left:923.1px;top:1634.9px;font-size:20.3px;line-height:20.3px;transform:scaleX(1.1130);">VL/LG/EC/5-24/H125W600</span>
<span class="t tb" style="left:1224.5px;top:1634.9px;font-size:20.3px;line-height:20.3px;transform-origin:50% 50%;transform:scaleX(1.1130);">125</span>
<span class="t tb" style="left:1280.6px;top:1634.9px;font-size:20.3px;line-height:20.3px;transform-origin:50% 50%;transform:scaleX(1.1130);">600</span>
<span class="t tb" style="left:1338.9px;top:1634.9px;font-size:20.3px;line-height:20.3px;transform-origin:50% 50%;transform:scaleX(1.1130);">1400</span>
<span class="t tb" style="left:1409.1px;top:1634.9px;font-size:20.3px;line-height:20.3px;transform-origin:50% 50%;transform:scaleX(1.1130);">3</span>
<span class="t tb" style="left:1448.3px;top:1634.9px;font-size:20.3px;line-height:20.3px;transform-origin:50% 50%;transform:scaleX(1.1130);">200</span>
<span class="t tb" style="left:1520.2px;top:1634.9px;font-size:20.3px;line-height:20.3px;transform-origin:50% 50%;transform:scaleX(1.1130);">2.0</span>
<span class="t tb" style="left:1585.1px;top:1634.9px;font-size:20.3px;line-height:20.3px;transform-origin:50% 50%;transform:scaleX(1.1130);">14.9</span>
<span class="t tb" style="left:923.1px;top:1672.3px;font-size:20.3px;line-height:20.3px;transform:scaleX(1.1130);">VL/LG/EC/5-30/H125W750</span>
<span class="t tb" style="left:1224.5px;top:1672.3px;font-size:20.3px;line-height:20.3px;transform-origin:50% 50%;transform:scaleX(1.1130);">125</span>
<span class="t tb" style="left:1280.6px;top:1672.3px;font-size:20.3px;line-height:20.3px;transform-origin:50% 50%;transform:scaleX(1.1130);">750</span>
<span class="t tb" style="left:1338.9px;top:1672.3px;font-size:20.3px;line-height:20.3px;transform-origin:50% 50%;transform:scaleX(1.1130);">1550</span>
<span class="t tb" style="left:1409.1px;top:1672.3px;font-size:20.3px;line-height:20.3px;transform-origin:50% 50%;transform:scaleX(1.1130);">3</span>
<span class="t tb" style="left:1448.3px;top:1672.3px;font-size:20.3px;line-height:20.3px;transform-origin:50% 50%;transform:scaleX(1.1130);">275</span>
<span class="t tb" style="left:1520.2px;top:1672.3px;font-size:20.3px;line-height:20.3px;transform-origin:50% 50%;transform:scaleX(1.1130);">2.0</span>
<span class="t tb" style="left:1585.1px;top:1672.3px;font-size:20.3px;line-height:20.3px;transform-origin:50% 50%;transform:scaleX(1.1130);">16.6</span>
<span class="t tb" style="left:923.1px;top:1709.7px;font-size:20.3px;line-height:20.3px;transform:scaleX(1.1130);">VL/LG/EC/5-36/H125W900</span>
<span class="t tb" style="left:1224.5px;top:1709.7px;font-size:20.3px;line-height:20.3px;transform-origin:50% 50%;transform:scaleX(1.1130);">125</span>
<span class="t tb" style="left:1280.6px;top:1709.7px;font-size:20.3px;line-height:20.3px;transform-origin:50% 50%;transform:scaleX(1.1130);">900</span>
<span class="t tb" style="left:1338.9px;top:1709.7px;font-size:20.3px;line-height:20.3px;transform-origin:50% 50%;transform:scaleX(1.1130);">1700</span>
<span class="t tb" style="left:1409.1px;top:1709.7px;font-size:20.3px;line-height:20.3px;transform-origin:50% 50%;transform:scaleX(1.1130);">4</span>
<span class="t tb" style="left:1448.3px;top:1709.7px;font-size:20.3px;line-height:20.3px;transform-origin:50% 50%;transform:scaleX(1.1130);">225</span>
<span class="t tb" style="left:1520.2px;top:1709.7px;font-size:20.3px;line-height:20.3px;transform-origin:50% 50%;transform:scaleX(1.1130);">2.0</span>
<span class="t tb" style="left:1585.1px;top:1709.7px;font-size:20.3px;line-height:20.3px;transform-origin:50% 50%;transform:scaleX(1.1130);">19.4</span>
<span class="t tb" style="left:923.1px;top:1747.0px;font-size:20.3px;line-height:20.3px;transform:scaleX(1.1130);">VL/LG/EC/5-40/H125W1000</span>
<span class="t tb" style="left:1224.5px;top:1747.0px;font-size:20.3px;line-height:20.3px;transform-origin:50% 50%;transform:scaleX(1.1130);">125</span>
<span class="t tb" style="left:1263.4px;top:1747.0px;font-size:20.3px;line-height:20.3px;transform-origin:50% 50%;transform:scaleX(1.1130);">1000</span>
<span class="t tb" style="left:1338.9px;top:1747.0px;font-size:20.3px;line-height:20.3px;transform-origin:50% 50%;transform:scaleX(1.1130);">1800</span>
<span class="t tb" style="left:1409.1px;top:1747.0px;font-size:20.3px;line-height:20.3px;transform-origin:50% 50%;transform:scaleX(1.1130);">4</span>
<span class="t tb" style="left:1448.3px;top:1747.0px;font-size:20.3px;line-height:20.3px;transform-origin:50% 50%;transform:scaleX(1.1130);">275</span>
<span class="t tb" style="left:1520.2px;top:1747.0px;font-size:20.3px;line-height:20.3px;transform-origin:50% 50%;transform:scaleX(1.1130);">2.0</span>
<span class="t tb" style="left:1585.1px;top:1747.0px;font-size:20.3px;line-height:20.3px;transform-origin:50% 50%;transform:scaleX(1.1130);">20.7</span>
<span class="t tb" style="left:923.1px;top:1784.4px;font-size:20.3px;line-height:20.3px;transform:scaleX(1.1130);">VL/LG/EC/6-8/H150W200</span>
<span class="t tb" style="left:1224.5px;top:1784.4px;font-size:20.3px;line-height:20.3px;transform-origin:50% 50%;transform:scaleX(1.1130);">150</span>
<span class="t tb" style="left:1280.6px;top:1784.4px;font-size:20.3px;line-height:20.3px;transform-origin:50% 50%;transform:scaleX(1.1130);">200</span>
<span class="t tb" style="left:1338.9px;top:1784.4px;font-size:20.3px;line-height:20.3px;transform-origin:50% 50%;transform:scaleX(1.1130);">1000</span>
<span class="t tb" style="left:1409.1px;top:1784.4px;font-size:20.3px;line-height:20.3px;transform-origin:50% 50%;transform:scaleX(1.1130);">1</span>
<span class="t tb" style="left:1448.3px;top:1784.4px;font-size:20.3px;line-height:20.3px;transform-origin:50% 50%;transform:scaleX(1.1130);">250</span>
<span class="t tb" style="left:1520.2px;top:1784.4px;font-size:20.3px;line-height:20.3px;transform-origin:50% 50%;transform:scaleX(1.1130);">2.0</span>
<span class="t tb" style="left:1585.1px;top:1784.4px;font-size:20.3px;line-height:20.3px;transform-origin:50% 50%;transform:scaleX(1.1130);">10.9</span>
<span class="t tb" style="left:923.1px;top:1821.8px;font-size:20.3px;line-height:20.3px;transform:scaleX(1.1130);">VL/LG/EC/6-10/H150W250</span>
<span class="t tb" style="left:1224.5px;top:1821.8px;font-size:20.3px;line-height:20.3px;transform-origin:50% 50%;transform:scaleX(1.1130);">150</span>
<span class="t tb" style="left:1280.6px;top:1821.8px;font-size:20.3px;line-height:20.3px;transform-origin:50% 50%;transform:scaleX(1.1130);">250</span>
<span class="t tb" style="left:1338.9px;top:1821.8px;font-size:20.3px;line-height:20.3px;transform-origin:50% 50%;transform:scaleX(1.1130);">1050</span>
<span class="t tb" style="left:1409.1px;top:1821.8px;font-size:20.3px;line-height:20.3px;transform-origin:50% 50%;transform:scaleX(1.1130);">1</span>
<span class="t tb" style="left:1448.3px;top:1821.8px;font-size:20.3px;line-height:20.3px;transform-origin:50% 50%;transform:scaleX(1.1130);">275</span>
<span class="t tb" style="left:1520.2px;top:1821.8px;font-size:20.3px;line-height:20.3px;transform-origin:50% 50%;transform:scaleX(1.1130);">2.0</span>
<span class="t tb" style="left:1585.9px;top:1821.8px;font-size:20.3px;line-height:20.3px;transform-origin:50% 50%;transform:scaleX(1.1130);">11.4</span>
<span class="t tb" style="left:923.1px;top:1859.2px;font-size:20.3px;line-height:20.3px;transform:scaleX(1.1130);">VL/LG/EC/6-12/H150W300</span>
<span class="t tb" style="left:1224.5px;top:1859.2px;font-size:20.3px;line-height:20.3px;transform-origin:50% 50%;transform:scaleX(1.1130);">150</span>
<span class="t tb" style="left:1280.6px;top:1859.2px;font-size:20.3px;line-height:20.3px;transform-origin:50% 50%;transform:scaleX(1.1130);">300</span>
<span class="t tb" style="left:1339.6px;top:1859.2px;font-size:20.3px;line-height:20.3px;transform-origin:50% 50%;transform:scaleX(1.1130);">1150</span>
<span class="t tb" style="left:1409.1px;top:1859.2px;font-size:20.3px;line-height:20.3px;transform-origin:50% 50%;transform:scaleX(1.1130);">1</span>
<span class="t tb" style="left:1448.3px;top:1859.2px;font-size:20.3px;line-height:20.3px;transform-origin:50% 50%;transform:scaleX(1.1130);">300</span>
<span class="t tb" style="left:1520.2px;top:1859.2px;font-size:20.3px;line-height:20.3px;transform-origin:50% 50%;transform:scaleX(1.1130);">2.0</span>
<span class="t tb" style="left:1585.9px;top:1859.2px;font-size:20.3px;line-height:20.3px;transform-origin:50% 50%;transform:scaleX(1.1130);">11.8</span>
<span class="t tb" style="left:923.1px;top:1896.6px;font-size:20.3px;line-height:20.3px;transform:scaleX(1.1130);">VL/LG/EC/6-16/H150W400</span>
<span class="t tb" style="left:1224.5px;top:1896.6px;font-size:20.3px;line-height:20.3px;transform-origin:50% 50%;transform:scaleX(1.1130);">150</span>
<span class="t tb" style="left:1280.6px;top:1896.6px;font-size:20.3px;line-height:20.3px;transform-origin:50% 50%;transform:scaleX(1.1130);">400</span>
<span class="t tb" style="left:1338.9px;top:1896.6px;font-size:20.3px;line-height:20.3px;transform-origin:50% 50%;transform:scaleX(1.1130);">1200</span>
<span class="t tb" style="left:1409.1px;top:1896.6px;font-size:20.3px;line-height:20.3px;transform-origin:50% 50%;transform:scaleX(1.1130);">2</span>
<span class="t tb" style="left:1448.3px;top:1896.6px;font-size:20.3px;line-height:20.3px;transform-origin:50% 50%;transform:scaleX(1.1130);">225</span>
<span class="t tb" style="left:1520.2px;top:1896.6px;font-size:20.3px;line-height:20.3px;transform-origin:50% 50%;transform:scaleX(1.1130);">2.0</span>
<span class="t tb" style="left:1585.1px;top:1896.6px;font-size:20.3px;line-height:20.3px;transform-origin:50% 50%;transform:scaleX(1.1130);">13.2</span>
<span class="t tb" style="left:923.1px;top:1933.9px;font-size:20.3px;line-height:20.3px;transform:scaleX(1.1130);">VL/LG/EC/6-18/H150W450</span>
<span class="t tb" style="left:1224.5px;top:1933.9px;font-size:20.3px;line-height:20.3px;transform-origin:50% 50%;transform:scaleX(1.1130);">150</span>
<span class="t tb" style="left:1280.6px;top:1933.9px;font-size:20.3px;line-height:20.3px;transform-origin:50% 50%;transform:scaleX(1.1130);">450</span>
<span class="t tb" style="left:1338.9px;top:1933.9px;font-size:20.3px;line-height:20.3px;transform-origin:50% 50%;transform:scaleX(1.1130);">1250</span>
<span class="t tb" style="left:1409.1px;top:1933.9px;font-size:20.3px;line-height:20.3px;transform-origin:50% 50%;transform:scaleX(1.1130);">2</span>
<span class="t tb" style="left:1448.3px;top:1933.9px;font-size:20.3px;line-height:20.3px;transform-origin:50% 50%;transform:scaleX(1.1130);">250</span>
<span class="t tb" style="left:1520.2px;top:1933.9px;font-size:20.3px;line-height:20.3px;transform-origin:50% 50%;transform:scaleX(1.1130);">2.0</span>
<span class="t tb" style="left:1585.1px;top:1933.9px;font-size:20.3px;line-height:20.3px;transform-origin:50% 50%;transform:scaleX(1.1130);">13.7</span>
<span class="t tb" style="left:923.1px;top:1971.3px;font-size:20.3px;line-height:20.3px;transform:scaleX(1.1130);">VL/LG/EC/6-20/H150W500</span>
<span class="t tb" style="left:1224.5px;top:1971.3px;font-size:20.3px;line-height:20.3px;transform-origin:50% 50%;transform:scaleX(1.1130);">150</span>
<span class="t tb" style="left:1280.6px;top:1971.3px;font-size:20.3px;line-height:20.3px;transform-origin:50% 50%;transform:scaleX(1.1130);">500</span>
<span class="t tb" style="left:1338.9px;top:1971.3px;font-size:20.3px;line-height:20.3px;transform-origin:50% 50%;transform:scaleX(1.1130);">1300</span>
<span class="t tb" style="left:1409.1px;top:1971.3px;font-size:20.3px;line-height:20.3px;transform-origin:50% 50%;transform:scaleX(1.1130);">2</span>
<span class="t tb" style="left:1448.3px;top:1971.3px;font-size:20.3px;line-height:20.3px;transform-origin:50% 50%;transform:scaleX(1.1130);">275</span>
<span class="t tb" style="left:1520.2px;top:1971.3px;font-size:20.3px;line-height:20.3px;transform-origin:50% 50%;transform:scaleX(1.1130);">2.0</span>
<span class="t tb" style="left:1585.1px;top:1971.3px;font-size:20.3px;line-height:20.3px;transform-origin:50% 50%;transform:scaleX(1.1130);">14.2</span>
<span class="t tb" style="left:923.1px;top:2008.7px;font-size:20.3px;line-height:20.3px;transform:scaleX(1.1130);">VL/LG/EC/6-24/H150W600</span>
<span class="t tb" style="left:1224.5px;top:2008.7px;font-size:20.3px;line-height:20.3px;transform-origin:50% 50%;transform:scaleX(1.1130);">150</span>
<span class="t tb" style="left:1280.6px;top:2008.7px;font-size:20.3px;line-height:20.3px;transform-origin:50% 50%;transform:scaleX(1.1130);">600</span>
<span class="t tb" style="left:1338.9px;top:2008.7px;font-size:20.3px;line-height:20.3px;transform-origin:50% 50%;transform:scaleX(1.1130);">1400</span>
<span class="t tb" style="left:1409.1px;top:2008.7px;font-size:20.3px;line-height:20.3px;transform-origin:50% 50%;transform:scaleX(1.1130);">3</span>
<span class="t tb" style="left:1448.3px;top:2008.7px;font-size:20.3px;line-height:20.3px;transform-origin:50% 50%;transform:scaleX(1.1130);">200</span>
<span class="t tb" style="left:1520.2px;top:2008.7px;font-size:20.3px;line-height:20.3px;transform-origin:50% 50%;transform:scaleX(1.1130);">2.0</span>
<span class="t tb" style="left:1585.1px;top:2008.7px;font-size:20.3px;line-height:20.3px;transform-origin:50% 50%;transform:scaleX(1.1130);">16.0</span>
<span class="t tb" style="left:923.1px;top:2046.1px;font-size:20.3px;line-height:20.3px;transform:scaleX(1.1130);">VL/LG/EC/6-30/H150W750</span>
<span class="t tb" style="left:1224.5px;top:2046.1px;font-size:20.3px;line-height:20.3px;transform-origin:50% 50%;transform:scaleX(1.1130);">150</span>
<span class="t tb" style="left:1280.6px;top:2046.1px;font-size:20.3px;line-height:20.3px;transform-origin:50% 50%;transform:scaleX(1.1130);">750</span>
<span class="t tb" style="left:1338.9px;top:2046.1px;font-size:20.3px;line-height:20.3px;transform-origin:50% 50%;transform:scaleX(1.1130);">1550</span>
<span class="t tb" style="left:1409.1px;top:2046.1px;font-size:20.3px;line-height:20.3px;transform-origin:50% 50%;transform:scaleX(1.1130);">3</span>
<span class="t tb" style="left:1448.3px;top:2046.1px;font-size:20.3px;line-height:20.3px;transform-origin:50% 50%;transform:scaleX(1.1130);">275</span>
<span class="t tb" style="left:1520.2px;top:2046.1px;font-size:20.3px;line-height:20.3px;transform-origin:50% 50%;transform:scaleX(1.1130);">2.0</span>
<span class="t tb" style="left:1585.1px;top:2046.1px;font-size:20.3px;line-height:20.3px;transform-origin:50% 50%;transform:scaleX(1.1130);">17.7</span>
<span class="t tb" style="left:923.1px;top:2083.5px;font-size:20.3px;line-height:20.3px;transform:scaleX(1.1130);">VL/LG/EC/6-32/H150W800</span>
<span class="t tb" style="left:1224.5px;top:2083.5px;font-size:20.3px;line-height:20.3px;transform-origin:50% 50%;transform:scaleX(1.1130);">150</span>
<span class="t tb" style="left:1280.6px;top:2083.5px;font-size:20.3px;line-height:20.3px;transform-origin:50% 50%;transform:scaleX(1.1130);">800</span>
<span class="t tb" style="left:1338.9px;top:2083.5px;font-size:20.3px;line-height:20.3px;transform-origin:50% 50%;transform:scaleX(1.1130);">1600</span>
<span class="t tb" style="left:1409.1px;top:2083.5px;font-size:20.3px;line-height:20.3px;transform-origin:50% 50%;transform:scaleX(1.1130);">3</span>
<span class="t tb" style="left:1448.3px;top:2083.5px;font-size:20.3px;line-height:20.3px;transform-origin:50% 50%;transform:scaleX(1.1130);">300</span>
<span class="t tb" style="left:1520.2px;top:2083.5px;font-size:20.3px;line-height:20.3px;transform-origin:50% 50%;transform:scaleX(1.1130);">2.0</span>
<span class="t tb" style="left:1585.1px;top:2083.5px;font-size:20.3px;line-height:20.3px;transform-origin:50% 50%;transform:scaleX(1.1130);">18.2</span>
<span class="t tb" style="left:923.1px;top:2120.8px;font-size:20.3px;line-height:20.3px;transform:scaleX(1.1130);">VL/LG/EC/6-36/H150W900</span>
<span class="t tb" style="left:1224.5px;top:2120.8px;font-size:20.3px;line-height:20.3px;transform-origin:50% 50%;transform:scaleX(1.1130);">150</span>
<span class="t tb" style="left:1280.6px;top:2120.8px;font-size:20.3px;line-height:20.3px;transform-origin:50% 50%;transform:scaleX(1.1130);">900</span>
<span class="t tb" style="left:1338.9px;top:2120.8px;font-size:20.3px;line-height:20.3px;transform-origin:50% 50%;transform:scaleX(1.1130);">1700</span>
<span class="t tb" style="left:1409.1px;top:2120.8px;font-size:20.3px;line-height:20.3px;transform-origin:50% 50%;transform:scaleX(1.1130);">4</span>
<span class="t tb" style="left:1448.3px;top:2120.8px;font-size:20.3px;line-height:20.3px;transform-origin:50% 50%;transform:scaleX(1.1130);">225</span>
<span class="t tb" style="left:1520.2px;top:2120.8px;font-size:20.3px;line-height:20.3px;transform-origin:50% 50%;transform:scaleX(1.1130);">2.0</span>
<span class="t tb" style="left:1585.1px;top:2120.8px;font-size:20.3px;line-height:20.3px;transform-origin:50% 50%;transform:scaleX(1.1130);">20.4</span>
<span class="t tb" style="left:923.1px;top:2158.2px;font-size:20.3px;line-height:20.3px;transform:scaleX(1.1130);">VL/LG/EC/6-40/H150W1000</span>
<span class="t tb" style="left:1224.5px;top:2158.2px;font-size:20.3px;line-height:20.3px;transform-origin:50% 50%;transform:scaleX(1.1130);">150</span>
<span class="t tb" style="left:1274.9px;top:2158.2px;font-size:20.3px;line-height:20.3px;transform-origin:50% 50%;transform:scaleX(1.1130);">1000</span>
<span class="t tb" style="left:1338.9px;top:2158.2px;font-size:20.3px;line-height:20.3px;transform-origin:50% 50%;transform:scaleX(1.1130);">1800</span>
<span class="t tb" style="left:1409.1px;top:2158.2px;font-size:20.3px;line-height:20.3px;transform-origin:50% 50%;transform:scaleX(1.1130);">4</span>
<span class="t tb" style="left:1448.3px;top:2158.2px;font-size:20.3px;line-height:20.3px;transform-origin:50% 50%;transform:scaleX(1.1130);">275</span>
<span class="t tb" style="left:1520.2px;top:2158.2px;font-size:20.3px;line-height:20.3px;transform-origin:50% 50%;transform:scaleX(1.1130);">2.0</span>
<span class="t tb" style="left:1585.1px;top:2158.2px;font-size:20.3px;line-height:20.3px;transform-origin:50% 50%;transform:scaleX(1.1130);">21.7</span>
<span class="t " style="left:143.1px;top:2197.6px;font-size:21.2px;line-height:21.2px;transform:scaleX(1.2100);">Kích thước bằng mm</span>
<span class="t " style="left:143.1px;top:2229.1px;font-size:21.2px;line-height:21.2px;transform:scaleX(1.2100);">Kí hiệu:</span>
<span class="t " style="left:243.2px;top:2229.1px;font-size:21.2px;line-height:21.2px;transform:scaleX(1.2100);">H</span>
<span class="t " style="left:275.2px;top:2229.1px;font-size:21.2px;line-height:21.2px;transform:scaleX(1.2100);">- Chiều cao</span>
<span class="t " style="left:447.7px;top:2229.1px;font-size:21.2px;line-height:21.2px;transform:scaleX(1.2100);">L - Chiều dài</span>
<span class="t " style="left:741.0px;top:2229.1px;font-size:21.2px;line-height:21.2px;transform:scaleX(1.2100);">W - Chiều rộng</span>
<span class="t " style="left:243.2px;top:2260.5px;font-size:21.2px;line-height:21.2px;transform:scaleX(1.2100);">P - Số khoảng</span>
<span class="t " style="left:453.6px;top:2260.5px;font-size:21.2px;line-height:21.2px;transform:scaleX(1.2100);">t</span>
<span class="t " style="left:474.3px;top:2260.5px;font-size:21.2px;line-height:21.2px;transform:scaleX(1.2100);">- Chiều dày vật liệu</span>
<span class="t " style="left:748.4px;top:2260.5px;font-size:21.2px;line-height:21.2px;transform:scaleX(1.2100);">m - Khối lượng gần đúng</span>
<span class="t " style="left:143.1px;top:2291.9px;font-size:21.2px;line-height:21.2px;transform:scaleX(1.2100);">Chúng tôi có thể sản xuất các kích thước khác theo yêu cầu của khách hàng.</span>
<div class="r" style="left:0.0px;top:2397.4px;width:839.8px;height:100.6px;background:#bcbec0"></div>
<span class="t " style="left:84.0px;top:2426.0px;font-size:44.8px;line-height:44.8px;transform:scaleX(0.8589);font-weight:700;">134</span>
<span class="t " style="left:362.3px;top:2423.5px;font-size:45px;line-height:45px;transform:scaleX(0.9996);color:#fbfbfc;">www.sinovanlock.com</span>
</body></html>
